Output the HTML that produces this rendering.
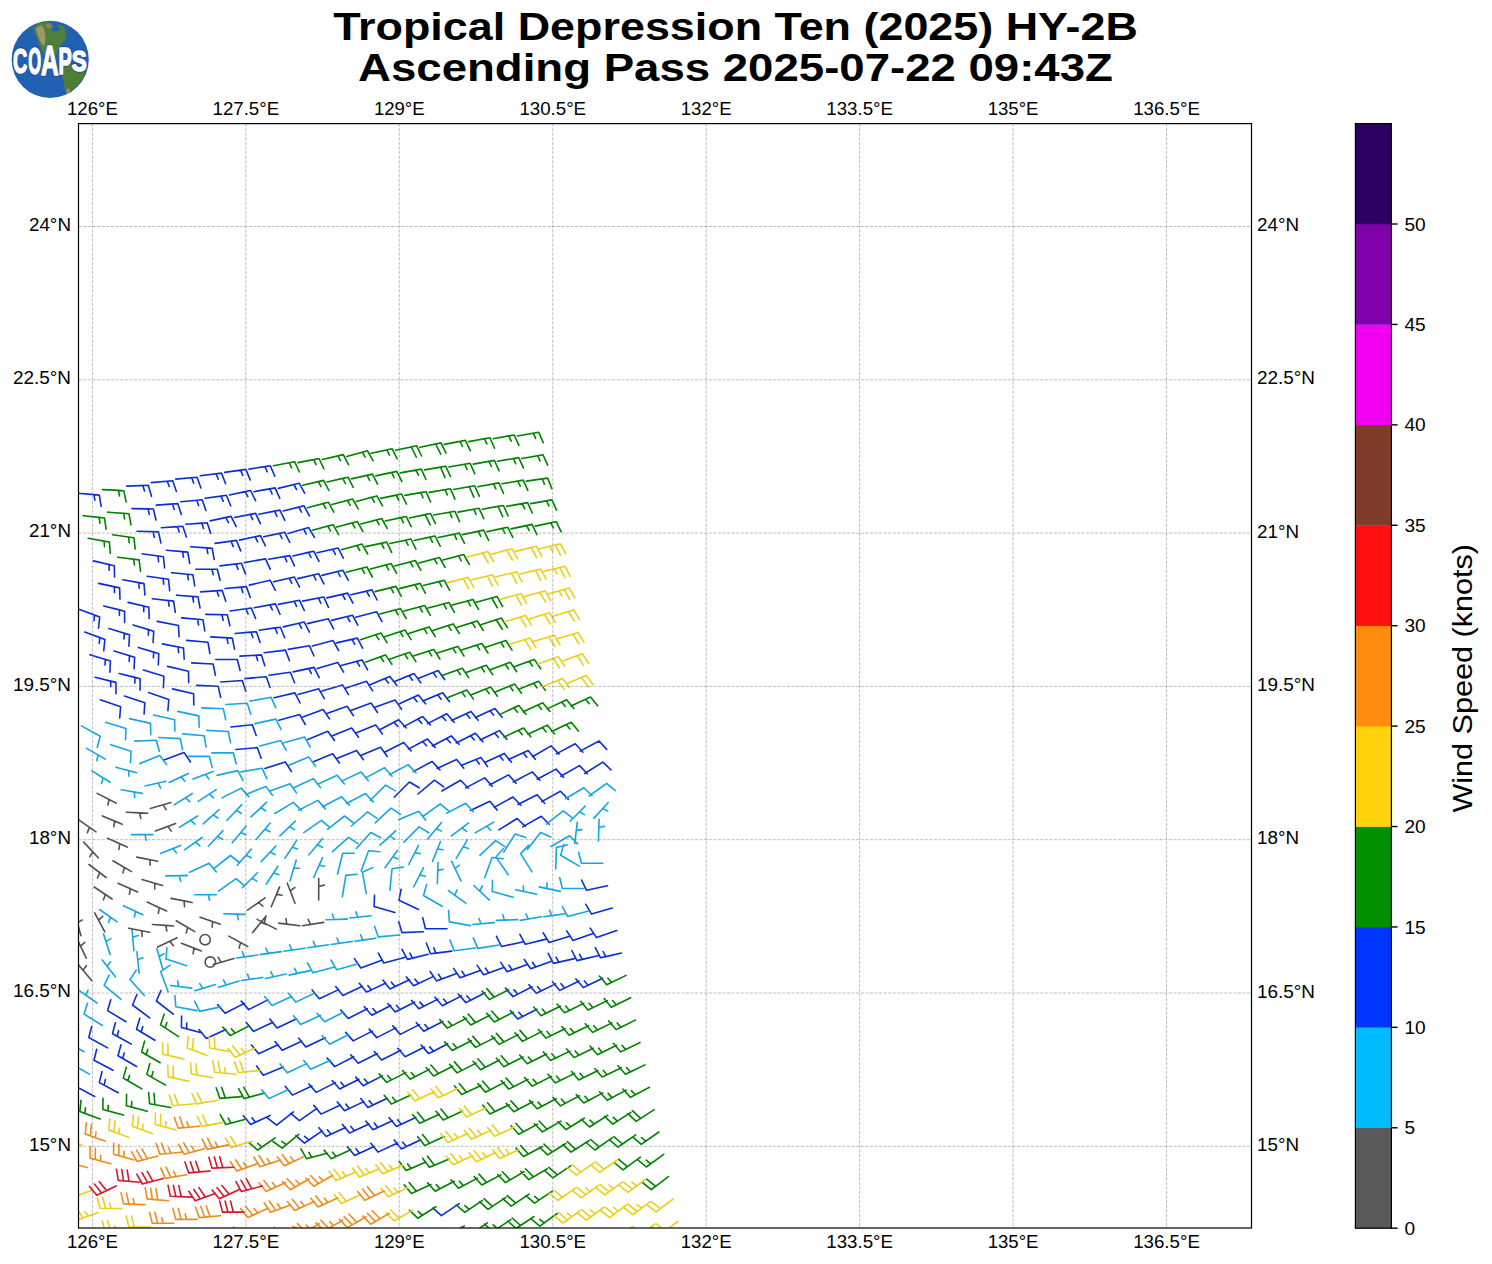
<!DOCTYPE html>
<html><head><meta charset="utf-8"><title>Tropical Depression Ten (2025) HY-2B</title>
<style>html,body{margin:0;padding:0;background:#fff;width:1492px;height:1264px;overflow:hidden;font-family:"Liberation Sans",sans-serif}</style>
</head><body>
<svg width="1492" height="1264" viewBox="0 0 1492 1264" style="position:absolute;left:0;top:0">
<rect width="100%" height="100%" fill="#fff"/>
<defs><clipPath id="fr"><rect x="78.5" y="123.6" width="1173.0" height="1104.4"/></clipPath></defs>
<g clip-path="url(#fr)" fill="none" stroke-width="1.6" stroke-linejoin="round" stroke-linecap="round">
<path stroke="#0a2ed4" d="M77.9 493.2L99.3 495.1L101.1 506.3L99.3 495.1L93.9 494.6L94.9 500.2L93.9 494.6ZM126.8 486.1L148.3 485.3L151.5 496.2L148.3 485.3L142.9 485.5L144.5 490.9L142.9 485.5ZM151.3 482.6L172.7 480.7L176.4 491.4L172.7 480.7L167.3 481.2L169.2 486.5L167.3 481.2ZM175.7 479.1L197.1 477.3L200.9 488.0L197.1 477.3L191.8 477.7L193.6 483.1L191.8 477.7ZM200.2 475.7L221.5 473.1L225.6 483.7L221.5 473.1L216.2 473.8L218.2 479.1L216.2 473.8ZM224.6 472.4L245.9 469.4L250.2 479.9L245.9 469.4L240.6 470.2L242.7 475.4L240.6 470.2ZM249.0 469.1L270.3 465.7L274.8 476.2L270.3 465.7L264.9 466.6L267.2 471.8L264.9 466.6ZM131.9 508.6L153.4 509.0L156.0 520.0L153.4 509.0L148.0 508.9L149.3 514.4L148.0 508.9ZM156.3 505.1L177.8 503.6L181.3 514.4L177.8 503.6L172.4 504.0L174.2 509.4L172.4 504.0ZM180.7 501.7L202.2 499.8L205.9 510.5L202.2 499.8L196.8 500.3L198.6 505.6L196.8 500.3ZM205.1 498.3L226.4 495.3L230.7 505.8L226.4 495.3L221.1 496.1L223.2 501.3L221.1 496.1ZM229.5 495.0L250.6 490.5L255.6 500.7L250.6 490.5L245.3 491.6L247.8 496.7L245.3 491.6ZM253.9 491.7L275.1 487.9L279.8 498.3L275.1 487.9L269.8 488.9L272.1 494.0L269.8 488.9ZM278.3 488.4L299.2 483.2L304.6 493.2L299.2 483.2L293.9 484.5L296.6 489.5L293.9 484.5ZM137.0 531.2L158.5 531.9L160.9 543.0L158.5 531.9L153.1 531.7L154.3 537.3L153.1 531.7ZM161.4 527.7L182.8 526.2L186.4 537.0L182.8 526.2L177.4 526.6L179.2 532.0L177.4 526.6ZM185.7 524.3L207.2 522.8L210.7 533.5L207.2 522.8L201.8 523.1L203.6 528.5L201.8 523.1ZM210.1 520.9L231.1 516.4L236.2 526.6L231.1 516.4L225.9 517.5L228.4 522.6L225.9 517.5ZM234.5 517.5L255.6 513.4L260.4 523.7L255.6 513.4L250.3 514.4L252.7 519.6L250.3 514.4ZM258.8 514.2L279.9 510.1L284.8 520.4L279.9 510.1L274.6 511.1L277.0 516.3L274.6 511.1ZM283.2 511.0L304.0 505.8L309.4 515.8L304.0 505.8L298.8 507.1L301.5 512.1L298.8 507.1ZM93.4 560.9L114.3 565.7L114.6 577.0L114.3 565.7L109.1 564.5L109.2 570.2L109.1 564.5ZM142.1 553.7L163.4 556.7L164.6 568.0L163.4 556.7L158.0 556.0L158.6 561.6L158.0 556.0ZM166.4 550.2L187.8 552.1L189.7 563.3L187.8 552.1L182.5 551.6L183.4 557.2L182.5 551.6ZM190.7 546.8L212.2 548.3L214.2 559.5L212.2 548.3L206.8 547.9L207.8 553.5L206.8 547.9ZM215.1 543.4L236.4 540.4L240.7 550.9L236.4 540.4L231.0 541.2L233.2 546.4L231.0 541.2ZM239.4 540.1L260.4 535.6L265.4 545.8L260.4 535.6L255.1 536.7L257.7 541.8L255.1 536.7ZM263.7 536.8L284.7 532.3L289.8 542.5L284.7 532.3L279.5 533.4L282.0 538.5L279.5 533.4ZM288.0 533.5L308.7 527.6L314.4 537.4L308.7 527.6L303.5 529.1L306.3 534.0L303.5 529.1ZM98.6 583.4L119.6 587.9L120.0 599.2L119.6 587.9L114.3 586.8L114.5 592.4L114.3 586.8ZM122.9 579.8L144.0 583.6L144.9 594.9L144.0 583.6L138.7 582.6L139.2 588.3L138.7 582.6ZM147.2 576.3L168.5 579.3L169.7 590.6L168.5 579.3L163.1 578.5L163.7 584.2L163.1 578.5ZM171.5 572.8L192.9 574.7L194.7 585.9L192.9 574.7L187.5 574.2L188.4 579.8L187.5 574.2ZM195.8 569.3L217.3 569.3L220.1 580.3L217.3 569.3L211.9 569.3L213.3 574.8L211.9 569.3ZM220.0 565.9L241.4 563.3L245.5 573.9L241.4 563.3L236.0 564.0L238.1 569.3L236.0 564.0ZM244.3 562.6L265.5 558.9L270.2 569.2L265.5 558.9ZM268.6 559.3L289.8 555.6L294.4 565.9L289.8 555.6L284.4 556.5L286.8 561.7L284.4 556.5ZM292.9 556.0L313.8 551.2L319.0 561.3L313.8 551.2L308.5 552.4L311.1 557.5L308.5 552.4ZM317.1 552.8L338.1 548.0L343.3 558.1L338.1 548.0L332.8 549.2L335.4 554.3L332.8 549.2ZM79.5 609.6L99.7 616.9L98.5 628.2L99.7 616.9L94.6 615.1L94.0 620.7L94.6 615.1ZM103.7 606.0L124.6 611.2L124.6 622.5L124.6 611.2L119.4 609.8L119.4 615.5L119.4 609.8ZM128.0 602.4L148.9 607.2L149.2 618.5L148.9 607.2L143.7 606.0L143.8 611.7L143.7 606.0ZM152.3 598.8L173.6 601.1L175.3 612.3L173.6 601.1L168.3 600.5L169.1 606.1L168.3 600.5ZM176.5 595.3L198.0 596.8L200.0 608.0L198.0 596.8L192.6 596.5L193.6 602.0L192.6 596.5ZM200.8 591.9L222.2 590.4L225.8 601.2L222.2 590.4L216.8 590.8L218.6 596.1L216.8 590.8ZM225.0 588.5L246.4 586.6L250.2 597.3L246.4 586.6L241.1 587.1L242.9 592.4L241.1 587.1ZM249.3 585.1L270.2 580.3L275.4 590.4L270.2 580.3ZM273.5 581.8L294.4 577.0L299.6 587.1L294.4 577.0L289.2 578.2L291.8 583.3L289.2 578.2ZM297.7 578.6L318.7 573.7L323.9 583.8L318.7 573.7L313.4 575.0L316.0 580.0L313.4 575.0ZM321.9 575.4L342.8 570.2L348.2 580.2L342.8 570.2L337.6 571.5L340.2 576.5L337.6 571.5ZM84.7 632.1L104.9 639.5L103.7 650.8L104.9 639.5L99.8 637.6L99.2 643.3L99.8 637.6ZM108.9 628.5L129.5 634.8L128.9 646.1L129.5 634.8L124.3 633.2L124.0 638.9L124.3 633.2ZM133.1 624.9L153.7 631.2L153.1 642.5L153.7 631.2L148.5 629.6L148.3 635.3L148.5 629.6ZM157.3 621.4L178.5 625.5L179.1 636.8L178.5 625.5ZM181.6 617.9L203.0 619.7L204.8 630.9L203.0 619.7L197.6 619.3L198.5 624.9L197.6 619.3ZM205.8 614.4L227.3 614.8L229.9 625.8L227.3 614.8L221.9 614.7L223.2 620.2L221.9 614.7ZM230.0 611.0L251.3 608.0L255.6 618.5L251.3 608.0L245.9 608.8L248.1 614.0L245.9 608.8ZM254.2 607.7L275.4 603.9L280.0 614.3L275.4 603.9L270.0 604.9L272.4 610.0L270.0 604.9ZM278.4 604.4L299.5 600.3L304.3 610.5L299.5 600.3L294.2 601.3L296.6 606.4L294.2 601.3ZM302.6 601.1L323.7 597.0L328.5 607.3L323.7 597.0L318.4 598.0L320.8 603.2L318.4 598.0ZM326.8 597.9L347.7 593.1L352.9 603.1L347.7 593.1L342.4 594.3L345.0 599.3L342.4 594.3ZM350.9 594.7L371.9 589.9L377.1 600.0L371.9 589.9L366.6 591.1L369.2 596.2L366.6 591.1ZM89.9 654.7L110.4 660.9L109.9 672.3L110.4 660.9L105.3 659.4L105.0 665.0L105.3 659.4ZM114.1 651.0L134.6 657.3L134.1 668.6L134.6 657.3L129.5 655.7L129.2 661.4L129.5 655.7ZM138.3 647.4L158.8 653.7L158.3 665.0L158.8 653.7L153.7 652.1L153.4 657.8L153.7 652.1ZM162.4 643.9L183.5 648.0L184.2 659.3L183.5 648.0L178.2 647.0L178.6 652.6L178.2 647.0ZM186.6 640.4L208.0 642.3L209.9 653.5L208.0 642.3ZM210.8 636.9L232.3 638.1L234.5 649.2L232.3 638.1L226.9 637.8L228.0 643.3L226.9 637.8ZM235.0 633.5L256.4 631.7L260.1 642.4L256.4 631.7L251.0 632.1L252.9 637.5L251.0 632.1ZM259.1 630.2L280.4 627.2L284.7 637.7L280.4 627.2L275.1 627.9L277.2 633.2L275.1 627.9ZM283.3 626.9L304.2 622.0L309.4 632.1L304.2 622.0L299.0 623.3L301.6 628.3L299.0 623.3ZM307.4 623.6L328.4 618.8L333.6 628.9L328.4 618.8ZM331.6 620.4L352.4 615.2L357.8 625.2L352.4 615.2L347.2 616.5L349.9 621.5L347.2 616.5ZM355.7 617.3L376.5 611.7L382.0 621.6L376.5 611.7ZM95.1 677.2L115.9 682.4L116.0 693.7L115.9 682.4L110.7 681.1L110.7 686.7L110.7 681.1ZM119.2 673.5L140.1 678.7L140.1 690.1L140.1 678.7L134.9 677.4L134.9 683.1L134.9 677.4ZM143.4 669.9L163.9 676.2L163.4 687.6L163.9 676.2ZM167.5 666.4L188.5 671.2L188.7 682.6L188.5 671.2ZM191.7 662.9L213.1 664.0L215.4 675.2L213.1 664.0ZM215.8 659.5L237.3 659.5L240.1 670.5L237.3 659.5ZM239.9 656.1L261.4 654.9L264.8 665.8L261.4 654.9L256.0 655.2L257.7 660.6L256.0 655.2ZM264.1 652.7L285.4 650.1L289.5 660.7L285.4 650.1ZM288.2 649.4L309.4 645.7L314.0 656.0L309.4 645.7ZM312.3 646.1L333.1 640.6L338.6 650.5L333.1 640.6ZM336.4 642.9L357.4 638.1L362.6 648.2L357.4 638.1L352.1 639.3L354.7 644.3L352.1 639.3ZM100.3 699.7L120.6 706.7L119.7 718.0L120.6 706.7ZM124.4 696.0L144.8 702.7L144.1 714.0L144.8 702.7ZM148.5 692.5L168.8 699.5L167.9 710.8L168.8 699.5ZM172.6 688.9L193.6 693.7L193.8 705.1L193.6 693.7ZM196.7 685.4L218.2 686.2L220.6 697.3L218.2 686.2ZM220.8 682.0L242.3 680.5L245.8 691.2L242.3 680.5ZM244.9 678.6L266.3 676.7L270.1 687.4L266.3 676.7ZM269.0 675.2L290.3 672.2L294.6 682.7L290.3 672.2ZM293.1 671.9L314.1 667.4L319.2 677.6L314.1 667.4L308.8 668.6L311.4 673.6L308.8 668.6ZM317.2 668.6L337.7 662.4L343.6 672.1L337.7 662.4ZM341.2 665.4L362.0 659.9L367.6 669.8L362.0 659.9L356.8 661.3L359.6 666.2L356.8 661.3ZM274.0 697.7L294.9 692.9L300.1 703.0L294.9 692.9ZM298.0 694.4L318.8 688.8L324.3 698.7L318.8 688.8ZM322.0 691.1L342.6 684.9L348.5 694.6L342.6 684.9ZM346.1 687.9L366.5 681.3L372.6 690.9L366.5 681.3ZM370.1 684.8L389.9 676.4L396.8 685.4L389.9 676.4L384.9 678.5L388.4 683.0L384.9 678.5ZM394.1 681.7L414.1 673.6L420.8 682.7L414.1 673.6L409.0 675.6L412.4 680.2L409.0 675.6ZM418.1 678.6L438.1 670.5L444.8 679.7L438.1 670.5L433.1 672.6L436.4 677.1L433.1 672.6ZM230.9 727.0L252.3 724.7L256.2 735.4L252.3 724.7ZM278.9 720.2L299.7 714.6L305.2 724.5L299.7 714.6ZM302.9 716.9L323.1 709.5L329.5 718.9L323.1 709.5ZM326.9 713.6L347.1 706.3L353.5 715.7L347.1 706.3ZM350.9 710.4L371.1 703.1L377.5 712.5L371.1 703.1ZM374.9 707.3L395.1 699.9L401.5 709.3L395.1 699.9ZM398.9 704.1L418.4 695.1L425.6 703.8L418.4 695.1L413.5 697.3L417.1 701.7L413.5 697.3ZM422.9 701.1L442.7 692.7L449.5 701.7L442.7 692.7L437.7 694.8L441.1 699.3L437.7 694.8ZM163.9 760.0L184.1 752.6L190.5 762.0L184.1 752.6ZM235.9 749.5L257.3 747.6L261.1 758.3L257.3 747.6ZM307.8 739.4L327.8 731.3L334.5 740.5L327.8 731.3ZM331.8 736.1L351.7 728.1L358.5 737.2L351.7 728.1ZM355.8 732.9L375.7 724.9L382.4 734.0L375.7 724.9ZM379.7 729.7L398.7 719.7L406.3 728.0L398.7 719.7L393.9 722.2L397.8 726.4L393.9 722.2ZM403.7 726.6L422.6 716.5L430.3 724.9L422.6 716.5L417.9 719.1L421.7 723.3L417.9 719.1ZM427.6 723.6L446.8 713.8L454.2 722.3L446.8 713.8L441.9 716.2L445.7 720.5L441.9 716.2ZM451.5 720.5L471.0 711.4L478.2 720.2L471.0 711.4L466.1 713.7L469.7 718.1L466.1 713.7ZM475.4 717.6L494.9 708.5L502.1 717.3L494.9 708.5L490.0 710.8L493.6 715.1L490.0 710.8ZM264.9 768.5L285.3 761.9L291.4 771.5L285.3 761.9ZM312.8 761.9L332.7 753.8L339.4 763.0L332.7 753.8ZM336.7 758.6L356.6 750.6L363.4 759.7L356.6 750.6ZM360.6 755.4L380.6 747.3L387.3 756.5L380.6 747.3ZM384.5 752.2L403.7 742.5L411.2 751.0L403.7 742.5ZM408.4 749.1L427.4 739.0L435.1 747.4L427.4 739.0L422.7 741.5L426.5 745.7L422.7 741.5ZM432.3 746.0L451.3 735.9L459.0 744.3L451.3 735.9L446.6 738.5L450.4 742.7L446.6 738.5ZM456.2 743.0L475.4 733.3L482.9 741.8L475.4 733.3L470.6 735.7L474.3 740.0L470.6 735.7ZM480.1 740.0L499.4 730.6L506.8 739.3L499.4 730.6L494.6 733.0L498.3 737.3L494.6 733.0ZM413.2 771.6L432.2 761.5L439.9 769.9L432.2 761.5ZM437.1 768.5L456.6 759.4L463.8 768.2L456.6 759.4ZM461.0 765.5L480.9 757.4L487.6 766.6L480.9 757.4L475.9 759.4L479.2 764.0L475.9 759.4ZM484.8 762.5L504.3 753.4L511.5 762.2L504.3 753.4L499.4 755.7L503.0 760.1L499.4 755.7ZM508.6 759.6L528.1 750.5L535.3 759.3L528.1 750.5L523.2 752.8L526.8 757.2L523.2 752.8ZM532.5 756.7L551.1 745.9L559.0 754.1L551.1 745.9ZM556.3 753.9L575.3 743.8L582.9 752.2L575.3 743.8ZM580.1 751.1L599.1 741.0L606.7 749.4L599.1 741.0ZM394.2 797.2L409.4 782.0L419.2 787.8L409.4 782.0ZM418.0 794.0L434.5 780.2L443.7 786.8L434.5 780.2ZM441.9 791.0L460.5 780.2L468.4 788.3L460.5 780.2ZM465.7 787.9L484.7 777.9L492.3 786.2L484.7 777.9ZM489.5 785.0L508.5 774.9L516.1 783.3L508.5 774.9ZM513.3 782.0L532.3 771.9L539.9 780.3L532.3 771.9ZM537.1 779.2L556.1 769.1L563.7 777.5L556.1 769.1ZM560.9 776.3L579.5 765.6L587.4 773.7L579.5 765.6ZM584.7 773.5L602.9 762.1L611.1 770.0L602.9 762.1ZM470.4 810.4L489.9 801.3L497.1 810.1L489.9 801.3ZM494.2 807.4L513.0 797.0L520.8 805.3L513.0 797.0ZM518.0 804.5L537.1 794.7L544.6 803.3L537.1 794.7ZM541.7 801.6L560.5 791.2L568.3 799.4L560.5 791.2ZM498.9 829.9L517.1 818.5L525.3 826.3L517.1 818.5ZM522.6 826.9L541.3 816.2L549.2 824.3L541.3 816.2ZM394.8 912.6L374.1 906.6L374.5 895.3L374.1 906.6ZM418.5 909.4L399.0 900.3L401.1 889.2L399.0 900.3ZM607.5 885.7L586.5 890.2L581.5 880.0L586.5 890.2ZM423.3 931.8L401.9 932.6L398.7 921.7L401.9 932.6ZM447.0 928.7L425.5 928.7L422.7 917.7L425.5 928.7ZM612.2 908.1L591.5 914.1L585.8 904.3L591.5 914.1ZM381.0 960.6L360.8 968.0L354.4 958.6L360.8 968.0ZM404.6 957.4L383.8 963.0L378.3 953.1L383.8 963.0ZM428.2 954.2L407.4 959.4L402.0 949.4L407.4 959.4L412.6 958.1L409.9 953.1L412.6 958.1ZM451.8 951.1L430.5 953.7L426.4 943.2L430.5 953.7L435.8 953.1L433.8 947.8L435.8 953.1ZM522.6 942.0L501.5 946.5L496.5 936.3L501.5 946.5ZM546.1 939.1L525.3 944.3L519.9 934.3L525.3 944.3ZM569.7 936.2L549.1 942.5L543.2 932.8L549.1 942.5ZM593.2 933.4L572.9 940.4L566.7 930.9L572.9 940.4ZM616.8 930.6L596.5 937.6L590.2 928.1L596.5 937.6ZM126.0 1021.7L107.6 1010.6L110.8 999.7L107.6 1010.6ZM149.7 1017.9L132.5 1005.0L136.9 994.5L132.5 1005.0ZM173.3 1014.2L156.4 1001.0L160.9 990.6L156.4 1001.0ZM244.3 1003.4L225.1 1013.2L217.6 1004.6L225.1 1013.2ZM267.9 999.9L248.7 1009.6L241.2 1001.1L248.7 1009.6ZM338.7 989.6L319.3 998.7L312.1 989.9L319.3 998.7ZM362.4 986.3L342.9 995.4L335.7 986.6L342.9 995.4ZM385.9 983.0L366.5 992.1L359.3 983.3L366.5 992.1L371.4 989.9L367.8 985.5L371.4 989.9ZM409.5 979.8L390.0 988.9L382.9 980.1L390.0 988.9L394.9 986.6L391.4 982.2L394.9 986.6ZM433.1 976.6L413.6 985.7L406.4 976.9L413.6 985.7L418.5 983.5L414.9 979.1L418.5 983.5ZM456.7 973.5L436.5 980.9L430.1 971.5L436.5 980.9L441.6 979.0L438.4 974.3L441.6 979.0ZM480.2 970.4L460.0 977.8L453.6 968.4L460.0 977.8L465.1 975.9L461.9 971.3L465.1 975.9ZM503.8 967.4L483.6 974.8L477.2 965.4L483.6 974.8L488.7 972.9L485.5 968.2L488.7 972.9ZM527.3 964.4L507.1 971.8L500.7 962.4L507.1 971.8L512.2 969.9L509.0 965.2L512.2 969.9ZM550.9 961.5L530.7 968.8L524.3 959.5L530.7 968.8L535.7 967.0L532.5 962.3L535.7 967.0ZM574.4 958.6L553.4 963.4L548.2 953.3L553.4 963.4L558.7 962.2L556.1 957.2L558.7 962.2ZM597.9 955.8L577.0 960.6L571.8 950.5L577.0 960.6L582.2 959.4L579.6 954.3L582.2 959.4ZM621.4 953.0L600.5 957.8L595.3 947.7L600.5 957.8L605.7 956.6L603.1 951.5L605.7 956.6ZM107.6 1047.9L88.8 1037.5L91.7 1026.5L88.8 1037.5ZM131.3 1044.1L112.5 1033.7L115.4 1022.7L112.5 1033.7L117.2 1036.3L118.6 1030.8L117.2 1036.3ZM154.9 1040.3L136.5 1029.3L139.8 1018.4L136.5 1029.3L141.1 1032.0L142.8 1026.6L141.1 1032.0ZM202.2 1033.0L181.4 1027.4L181.6 1016.1L181.4 1027.4L186.6 1028.8L186.7 1023.1L186.6 1028.8ZM225.8 1029.4L206.3 1038.5L199.1 1029.7L206.3 1038.5ZM273.0 1022.3L253.5 1031.4L246.3 1022.6L253.5 1031.4ZM296.6 1018.8L277.1 1027.9L269.9 1019.1L277.1 1027.9ZM367.3 1008.7L348.2 1018.5L340.7 1010.0L348.2 1018.5ZM390.9 1005.5L371.8 1015.2L364.3 1006.7L371.8 1015.2L376.6 1012.8L372.8 1008.5L376.6 1012.8ZM414.5 1002.2L395.3 1012.0L387.8 1003.5L395.3 1012.0L400.1 1009.5L396.4 1005.3L400.1 1009.5ZM438.0 999.1L418.9 1008.8L411.4 1000.3L418.9 1008.8L423.7 1006.4L419.9 1002.1L423.7 1006.4ZM461.6 995.9L442.4 1005.7L434.9 997.2L442.4 1005.7L447.2 1003.2L443.5 999.0L447.2 1003.2ZM485.1 992.8L465.9 1002.6L458.4 994.1L465.9 1002.6L470.7 1000.2L467.0 995.9L470.7 1000.2ZM532.1 986.8L513.0 996.6L505.5 988.1L513.0 996.6L517.8 994.1L514.0 989.9L517.8 994.1ZM555.6 983.9L536.3 993.3L529.0 984.7L536.3 993.3L541.1 990.9L537.5 986.6L541.1 990.9ZM579.1 981.0L559.8 990.4L552.4 981.8L559.8 990.4L564.6 988.1L561.0 983.7L564.6 988.1ZM602.6 978.2L583.3 987.6L575.9 978.9L583.3 987.6L588.1 985.2L584.4 980.9L588.1 985.2ZM113.0 1070.3L94.0 1060.2L96.7 1049.2L94.0 1060.2ZM136.6 1066.5L118.0 1055.7L121.0 1044.8L118.0 1055.7L122.6 1058.4L124.2 1053.0L122.6 1058.4ZM278.1 1044.7L258.6 1053.8L251.5 1045.0L258.6 1053.8ZM301.7 1041.2L282.2 1050.3L275.0 1041.5L282.2 1050.3ZM325.3 1037.8L305.8 1046.9L298.6 1038.1L305.8 1046.9ZM372.3 1031.1L353.2 1040.9L345.7 1032.4L353.2 1040.9ZM395.9 1027.9L376.7 1037.6L369.2 1029.1L376.7 1037.6ZM419.4 1024.6L400.2 1034.4L392.8 1025.9L400.2 1034.4ZM442.9 1021.5L423.8 1031.2L416.3 1022.7L423.8 1031.2L428.6 1028.8L424.8 1024.5L428.6 1028.8ZM536.9 1009.2L517.7 1019.0L510.3 1010.5L517.7 1019.0L522.6 1016.5L518.8 1012.3L522.6 1016.5ZM94.7 1096.5L75.7 1086.4L78.4 1075.4L75.7 1086.4ZM118.3 1092.7L99.3 1082.6L102.0 1071.6L99.3 1082.6L104.1 1085.1L105.4 1079.6L104.1 1085.1ZM283.3 1067.1L263.3 1075.2L256.6 1066.0L263.3 1075.2ZM353.8 1056.8L334.7 1066.6L327.2 1058.1L334.7 1066.6ZM377.4 1053.5L358.2 1063.3L350.7 1054.8L358.2 1063.3ZM400.9 1050.3L381.7 1060.0L374.2 1051.5L381.7 1060.0ZM424.4 1047.0L405.2 1056.8L397.7 1048.3L405.2 1056.8ZM447.8 1043.8L428.7 1053.6L421.2 1045.1L428.7 1053.6L433.5 1051.2L429.7 1046.9L433.5 1051.2ZM311.9 1086.0L292.4 1095.1L285.2 1086.3L292.4 1095.1ZM335.4 1082.6L316.2 1092.4L308.8 1083.8L316.2 1092.4ZM358.9 1079.2L339.7 1089.0L332.2 1080.5L339.7 1089.0L344.5 1086.5L340.8 1082.3L344.5 1086.5ZM382.4 1075.9L363.2 1085.7L355.7 1077.1L363.2 1085.7L368.0 1083.2L364.3 1079.0L368.0 1083.2ZM270.1 1115.4L250.6 1124.5L243.4 1115.7L250.6 1124.5L255.5 1122.2L251.9 1117.8L255.5 1122.2ZM293.5 1111.9L276.6 1125.1L267.6 1118.2L276.6 1125.1ZM317.0 1108.4L299.4 1120.7L290.8 1113.3L299.4 1120.7ZM340.5 1105.0L321.0 1114.1L313.8 1105.3L321.0 1114.1ZM363.9 1101.6L344.5 1110.7L337.3 1101.9L344.5 1110.7L349.4 1108.4L345.8 1104.0L349.4 1108.4ZM387.4 1098.3L367.9 1107.4L360.7 1098.6L367.9 1107.4L372.8 1105.1L369.2 1100.7L372.8 1105.1ZM322.1 1130.8L304.5 1143.1L295.9 1135.7L304.5 1143.1L308.9 1140.0L304.6 1136.3L308.9 1140.0ZM345.6 1127.4L326.1 1136.5L318.9 1127.7L326.1 1136.5L331.0 1134.2L327.4 1129.8L331.0 1134.2ZM369.0 1124.0L349.5 1133.1L342.3 1124.3L349.5 1133.1L354.4 1130.8L350.8 1126.4L354.4 1130.8ZM392.4 1120.7L372.9 1129.8L365.8 1121.0L372.9 1129.8L377.8 1127.5L374.2 1123.1L377.8 1127.5ZM415.8 1117.4L396.4 1126.5L389.2 1117.7L396.4 1126.5L401.2 1124.2L397.7 1119.8L401.2 1124.2ZM374.1 1146.4L354.6 1155.5L347.4 1146.7L354.6 1155.5L359.5 1153.2L355.9 1148.8L359.5 1153.2ZM397.5 1143.0L378.0 1152.1L370.8 1143.3L378.0 1152.1ZM420.9 1139.8L401.4 1148.9L394.2 1140.1L401.4 1148.9L406.3 1146.6L402.7 1142.2L406.3 1146.6ZM459.2 1203.6L441.4 1215.6L432.9 1208.1L441.4 1215.6Z"/>
<path stroke="#008200" d="M102.4 489.6L123.8 490.7L126.1 501.9L123.8 490.7L118.4 490.4L119.6 496.0L118.4 490.4ZM273.5 465.8L294.6 461.7L299.4 472.0L294.6 461.7L289.3 462.8L291.7 467.9L289.3 462.8ZM297.9 462.6L319.0 458.5L323.9 468.8L319.0 458.5L313.7 459.6L316.1 464.7L313.7 459.6ZM322.3 459.5L343.3 454.6L348.5 464.7L343.3 454.6L338.0 455.9L340.6 460.9L338.0 455.9ZM346.7 456.4L367.5 450.8L373.0 460.7L367.5 450.8L362.3 452.2L365.1 457.2L362.3 452.2ZM371.1 453.3L392.2 448.8L397.2 459.0L392.2 448.8L386.9 450.0L389.4 455.1L386.9 450.0ZM395.5 450.3L416.6 445.8L421.6 456.0L416.6 445.8L411.3 447.0L416.3 457.1L411.3 447.0ZM419.9 447.3L441.0 442.9L446.0 453.1L441.0 442.9L435.7 444.0L440.7 454.2L435.7 444.0ZM444.3 444.4L465.4 440.3L470.3 450.6L465.4 440.3L460.1 441.4L462.5 446.5L460.1 441.4ZM468.7 441.6L489.9 437.8L494.5 448.2L489.9 437.8L484.5 438.8L486.9 443.9L484.5 438.8ZM493.1 438.7L514.2 435.0L518.9 445.4L514.2 435.0L508.9 435.9L511.2 441.1L508.9 435.9ZM517.4 436.0L538.6 432.2L543.3 442.6L538.6 432.2L533.3 433.2L535.6 438.3L533.3 433.2ZM83.1 515.8L104.5 518.0L106.1 529.2L104.5 518.0L99.1 517.4L99.9 523.1L99.1 517.4ZM107.5 512.2L128.9 513.7L131.0 524.8L128.9 513.7L123.6 513.3L124.6 518.9L123.6 513.3ZM302.7 485.2L323.6 480.4L328.9 490.5L323.6 480.4L318.4 481.6L321.0 486.6L318.4 481.6ZM327.1 482.0L348.0 477.2L353.2 487.3L348.0 477.2L342.8 478.4L345.4 483.5L342.8 478.4ZM351.4 478.9L372.4 474.1L377.6 484.2L372.4 474.1L367.1 475.3L369.7 480.4L367.1 475.3ZM375.8 475.9L396.8 471.4L401.9 481.6L396.8 471.4L391.6 472.5L394.1 477.6L391.6 472.5ZM400.2 472.9L421.3 469.1L426.0 479.5L421.3 469.1L416.0 470.1L418.4 475.2L416.0 470.1ZM424.5 469.9L445.7 466.2L450.4 476.5L445.7 466.2L440.4 467.1L445.0 477.4L440.4 467.1ZM448.9 467.0L470.0 463.2L474.7 473.6L470.0 463.2L464.7 464.2L467.0 469.4L464.7 464.2ZM473.2 464.1L494.4 460.4L499.0 470.7L494.4 460.4L489.0 461.3L491.4 466.5L489.0 461.3ZM497.5 461.3L518.7 457.6L523.4 467.9L518.7 457.6L513.4 458.5L515.7 463.7L513.4 458.5ZM521.8 458.5L543.0 454.8L547.7 465.1L543.0 454.8L537.7 455.7L540.0 460.9L537.7 455.7ZM88.2 538.3L109.4 542.0L110.3 553.4L109.4 542.0L104.1 541.1L104.5 546.8L104.1 541.1ZM112.6 534.7L133.9 537.7L135.2 549.0L133.9 537.7L128.6 537.0L129.2 542.6L128.6 537.0ZM307.5 507.8L328.3 502.2L333.8 512.1L328.3 502.2L323.1 503.6L325.8 508.5L323.1 503.6ZM331.8 504.6L352.6 499.0L358.2 508.9L352.6 499.0L347.4 500.4L350.2 505.4L347.4 500.4ZM356.2 501.5L376.9 495.9L382.5 505.8L376.9 495.9L371.7 497.3L374.5 502.3L371.7 497.3ZM380.5 498.4L401.5 494.0L406.5 504.1L401.5 494.0L396.2 495.1L398.7 500.2L396.2 495.1ZM404.8 495.4L426.0 491.7L430.6 502.0L426.0 491.7L420.7 492.6L423.0 497.8L420.7 492.6ZM429.1 492.4L450.3 488.7L455.0 499.1L450.3 488.7L445.0 489.7L447.3 494.8L445.0 489.7ZM453.4 489.5L474.6 485.8L479.3 496.1L474.6 485.8L469.3 486.7L473.9 497.1L469.3 486.7ZM477.7 486.7L498.9 482.9L503.5 493.3L498.9 482.9L493.6 483.9L495.9 489.0L493.6 483.9ZM502.0 483.8L523.2 480.1L527.8 490.4L523.2 480.1L517.8 481.0L520.2 486.2L517.8 481.0ZM526.3 481.1L547.6 478.1L551.9 488.6L547.6 478.1L542.2 478.8L544.4 484.1L542.2 478.8ZM117.7 557.3L139.1 559.9L140.5 571.2L139.1 559.9L133.7 559.2L134.4 564.9L133.7 559.2ZM312.3 530.3L333.1 524.7L338.6 534.6L333.1 524.7L327.9 526.1L330.6 531.1L327.9 526.1ZM336.6 527.1L357.4 521.6L362.9 531.5L357.4 521.6L352.2 523.0L354.9 527.9L352.2 523.0ZM360.9 524.0L381.7 518.5L387.2 528.4L381.7 518.5L376.4 519.9L379.2 524.8L376.4 519.9ZM385.2 521.0L406.2 516.5L411.2 526.7L406.2 516.5L400.9 517.6L403.4 522.7L400.9 517.6ZM409.4 518.0L430.5 513.5L435.5 523.7L430.5 513.5L425.2 514.6L430.2 524.8L425.2 514.6ZM433.7 515.0L454.9 511.3L459.6 521.6L454.9 511.3L449.6 512.2L451.9 517.4L449.6 512.2ZM458.0 512.1L479.1 508.3L483.8 518.7L479.1 508.3L473.8 509.3L476.2 514.4L473.8 509.3ZM482.2 509.2L503.4 505.5L508.1 515.8L503.4 505.5L498.1 506.4L502.7 516.7L498.1 506.4ZM506.5 506.4L527.6 502.6L532.3 513.0L527.6 502.6L522.3 503.6L524.7 508.8L522.3 503.6ZM530.7 503.6L551.9 499.9L556.5 510.2L551.9 499.9L546.6 500.8L548.9 506.0L546.6 500.8ZM341.4 549.7L362.1 544.1L367.7 554.0L362.1 544.1L356.9 545.5L359.7 550.5L356.9 545.5ZM365.6 546.6L386.7 542.1L391.7 552.3L386.7 542.1L381.4 543.2L383.9 548.3L381.4 543.2ZM389.9 543.5L410.9 539.0L415.9 549.2L410.9 539.0L405.6 540.2L408.1 545.2L405.6 540.2ZM414.1 540.5L435.1 536.0L440.2 546.2L435.1 536.0L429.8 537.1L432.4 542.2L429.8 537.1ZM438.3 537.5L459.4 533.1L464.4 543.2L459.4 533.1L454.1 534.2L456.6 539.3L454.1 534.2ZM462.5 534.6L483.6 530.1L488.6 540.3L483.6 530.1L478.3 531.3L480.8 536.3L478.3 531.3ZM486.8 531.7L507.8 527.3L512.8 537.4L507.8 527.3L502.5 528.4L505.0 533.5L502.5 528.4ZM511.0 528.9L532.0 524.4L537.0 534.6L532.0 524.4L526.7 525.6L529.2 530.6L526.7 525.6ZM535.2 526.1L556.2 521.7L561.2 531.8L556.2 521.7L550.9 522.8L553.4 527.9L550.9 522.8ZM346.2 572.2L367.0 567.0L372.4 577.0L367.0 567.0L361.8 568.3L364.5 573.3L361.8 568.3ZM370.4 569.1L391.1 563.5L396.7 573.4L391.1 563.5L385.9 564.9L388.7 569.9L385.9 564.9ZM394.6 566.0L415.3 560.5L420.9 570.4L415.3 560.5L410.1 561.9L412.9 566.8L410.1 561.9ZM418.8 563.0L439.5 557.5L445.1 567.4L439.5 557.5L434.3 558.9L437.1 563.8L434.3 558.9ZM442.9 560.0L463.7 554.5L469.3 564.4L463.7 554.5L458.5 555.9L461.3 560.8L458.5 555.9ZM375.1 591.6L396.0 586.4L401.3 596.4L396.0 586.4L390.7 587.7L393.4 592.7L390.7 587.7ZM399.3 588.6L420.1 583.4L425.5 593.4L420.1 583.4L414.9 584.7L417.6 589.7L414.9 584.7ZM423.4 585.5L444.3 580.3L449.7 590.3L444.3 580.3L439.0 581.6L441.7 586.6L439.0 581.6ZM379.8 614.1L400.6 608.6L406.2 618.5L400.6 608.6L395.4 610.0L398.2 614.9L395.4 610.0ZM404.0 611.1L424.7 605.5L430.3 615.4L424.7 605.5L419.5 606.9L422.3 611.9L419.5 606.9ZM428.1 608.1L448.9 602.5L454.4 612.4L448.9 602.5L443.6 603.9L446.4 608.8L443.6 603.9ZM452.2 605.1L473.0 599.5L478.5 609.4L473.0 599.5L467.7 600.9L470.5 605.9L467.7 600.9ZM476.3 602.2L497.1 596.6L502.6 606.5L497.1 596.6L491.8 598.0L497.4 607.9L491.8 598.0ZM360.5 639.8L381.0 633.1L387.0 642.7L381.0 633.1L375.8 634.8L378.8 639.6L375.8 634.8ZM384.6 636.7L405.0 630.0L411.1 639.6L405.0 630.0L399.9 631.7L402.9 636.5L399.9 631.7ZM408.7 633.6L429.1 626.9L435.2 636.5L429.1 626.9L424.0 628.6L427.0 633.4L424.0 628.6ZM432.8 630.6L453.2 623.9L459.3 633.5L453.2 623.9L448.1 625.6L451.1 630.4L448.1 625.6ZM456.8 627.6L477.3 621.0L483.3 630.5L477.3 621.0L472.1 622.6L475.2 627.4L472.1 622.6ZM480.9 624.7L501.3 618.0L507.4 627.6L501.3 618.0L496.2 619.7L502.3 629.3L496.2 619.7ZM365.3 662.3L385.5 654.9L391.9 664.3L385.5 654.9L380.4 656.8L383.6 661.5L380.4 656.8ZM389.4 659.2L409.7 652.2L415.9 661.6L409.7 652.2L404.6 653.9L407.7 658.7L404.6 653.9ZM413.4 656.1L433.8 649.4L439.9 659.0L433.8 649.4L428.7 651.1L431.7 655.9L428.7 651.1ZM437.4 653.1L457.9 646.4L464.0 656.0L457.9 646.4L452.8 648.1L455.8 652.9L452.8 648.1ZM461.5 650.1L481.9 643.5L488.0 653.0L481.9 643.5L476.8 645.1L479.8 649.9L476.8 645.1ZM485.5 647.2L505.9 640.5L512.0 650.1L505.9 640.5L500.8 642.2L503.8 647.0L500.8 642.2ZM442.1 675.6L462.3 668.2L468.7 677.6L462.3 668.2L457.3 670.1L460.5 674.7L457.3 670.1ZM466.1 672.6L486.3 665.2L492.7 674.6L486.3 665.2L481.3 667.1L484.4 671.8L481.3 667.1ZM490.1 669.7L510.3 662.3L516.7 671.7L510.3 662.3L505.2 664.2L508.4 668.8L505.2 664.2ZM514.1 666.8L534.3 659.4L540.7 668.8L534.3 659.4L529.2 661.3L532.4 666.0L529.2 661.3ZM446.8 698.1L466.8 690.0L473.5 699.1L466.8 690.0L461.8 692.0L465.1 696.6L461.8 692.0ZM470.8 695.1L490.7 687.0L497.4 696.2L490.7 687.0L485.7 689.0L489.1 693.6L485.7 689.0ZM494.7 692.2L514.7 684.1L521.4 693.2L514.7 684.1L509.7 686.1L513.0 690.7L509.7 686.1ZM518.7 689.3L538.6 681.2L545.3 690.4L538.6 681.2L533.6 683.2L537.0 687.8L533.6 683.2ZM499.4 714.6L518.8 705.5L526.0 714.3L518.8 705.5L513.9 707.8L517.5 712.2L513.9 707.8ZM523.3 711.8L542.7 702.7L549.9 711.5L542.7 702.7L537.9 705.0L541.4 709.3L537.9 705.0ZM547.2 708.9L566.6 699.8L573.8 708.6L566.6 699.8L561.7 702.1L565.3 706.5L561.7 702.1ZM571.0 706.1L590.5 697.1L597.7 705.8L590.5 697.1L585.6 699.3L589.2 703.7L585.6 699.3ZM504.0 737.1L523.5 728.0L530.7 736.8L523.5 728.0L518.6 730.3L522.2 734.7L518.6 730.3ZM527.9 734.2L547.3 725.1L554.5 733.9L547.3 725.1L542.5 727.4L546.0 731.8L542.5 727.4ZM551.7 731.4L571.2 722.3L578.4 731.1L571.2 722.3L566.3 724.6L569.9 729.0L566.3 724.6ZM178.6 1036.6L160.5 1024.9L164.2 1014.2L160.5 1024.9L165.1 1027.9L166.9 1022.5L165.1 1027.9ZM249.4 1025.8L230.3 1035.6L222.8 1027.0L230.3 1035.6L235.1 1033.1L231.3 1028.8L235.1 1033.1ZM508.6 989.8L489.4 999.6L482.0 991.0L489.4 999.6L494.3 997.1L486.8 988.6L494.3 997.1ZM626.1 975.4L606.7 984.8L599.4 976.1L606.7 984.8L611.6 982.4L607.9 978.1L611.6 982.4ZM160.2 1062.7L141.6 1052.0L144.6 1041.1L141.6 1052.0L146.2 1054.7L147.8 1049.2L146.2 1054.7ZM466.4 1018.3L447.3 1028.1L439.8 1019.6L447.3 1028.1L452.1 1025.6L448.3 1021.4L452.1 1025.6ZM489.9 1015.2L470.8 1025.0L463.3 1016.5L470.8 1025.0L475.6 1022.6L468.1 1014.0L475.6 1022.6ZM513.4 1012.2L494.3 1022.0L486.8 1013.4L494.3 1022.0L499.1 1019.5L491.6 1011.0L499.1 1019.5ZM560.4 1006.3L541.0 1015.7L533.7 1007.1L541.0 1015.7L545.9 1013.3L542.2 1009.0L545.9 1013.3ZM583.8 1003.4L564.5 1012.8L557.2 1004.2L564.5 1012.8L569.4 1010.5L565.7 1006.1L569.4 1010.5ZM607.3 1000.6L588.0 1010.0L580.6 1001.3L588.0 1010.0L592.8 1007.6L589.1 1003.3L592.8 1007.6ZM630.7 997.8L611.4 1007.2L604.1 998.5L611.4 1007.2L616.2 1004.8L612.6 1000.5L616.2 1004.8ZM141.9 1088.9L123.3 1078.1L126.3 1067.2L123.3 1078.1L127.9 1080.8L129.5 1075.4L127.9 1080.8ZM165.5 1085.1L146.8 1074.4L149.9 1063.5L146.8 1074.4L151.5 1077.1L153.1 1071.6L151.5 1077.1ZM471.3 1040.7L452.2 1050.5L444.7 1041.9L452.2 1050.5L457.0 1048.0L453.2 1043.8L457.0 1048.0ZM494.8 1037.6L475.6 1047.4L468.1 1038.9L475.6 1047.4L480.4 1044.9L472.9 1036.4L480.4 1044.9ZM518.2 1034.6L499.1 1044.4L491.6 1035.8L499.1 1044.4L503.9 1041.9L496.4 1033.4L503.9 1041.9ZM541.7 1031.6L522.5 1041.4L515.0 1032.8L522.5 1041.4L527.3 1038.9L519.9 1030.4L527.3 1038.9ZM565.1 1028.7L545.8 1038.1L538.5 1029.4L545.8 1038.1L550.7 1035.7L547.0 1031.4L550.7 1035.7ZM588.6 1025.8L569.2 1035.2L561.9 1026.5L569.2 1035.2L574.1 1032.8L570.4 1028.5L574.1 1032.8ZM612.0 1022.9L592.7 1032.4L585.3 1023.7L592.7 1032.4L597.5 1030.0L593.8 1025.7L597.5 1030.0ZM635.4 1020.1L616.1 1029.6L608.7 1020.9L616.1 1029.6L620.9 1027.2L617.2 1022.9L620.9 1027.2ZM100.1 1118.9L79.9 1111.6L81.0 1100.3L79.9 1111.6L84.9 1113.4L85.5 1107.8L84.9 1113.4ZM123.6 1115.1L102.9 1109.5L103.0 1098.2L102.9 1109.5L108.1 1110.9L108.2 1105.2L108.1 1110.9ZM147.2 1111.3L126.4 1105.7L126.6 1094.4L126.4 1105.7L131.6 1107.1L131.7 1101.4L131.6 1107.1ZM170.7 1107.5L149.6 1103.8L148.7 1092.5L149.6 1103.8L154.9 1104.7L154.0 1093.4L154.9 1104.7ZM241.4 1096.6L219.9 1098.4L216.2 1087.7L219.9 1098.4L225.3 1098.0L221.6 1087.3L225.3 1098.0ZM264.9 1093.0L244.1 1098.6L238.6 1088.7L244.1 1098.6L249.3 1097.2L243.8 1087.3L249.3 1097.2ZM405.8 1072.6L386.7 1082.4L379.2 1073.9L386.7 1082.4L391.5 1079.9L387.8 1075.7L391.5 1079.9ZM429.3 1069.4L410.2 1079.2L402.7 1070.6L410.2 1079.2L415.0 1076.7L411.2 1072.5L415.0 1076.7ZM452.8 1066.2L433.6 1076.0L426.1 1067.5L433.6 1076.0L438.4 1073.5L430.9 1065.0L438.4 1073.5ZM476.2 1063.1L457.1 1072.9L449.6 1064.3L457.1 1072.9L461.9 1070.4L454.4 1061.9L461.9 1070.4ZM499.6 1060.0L480.5 1069.8L473.0 1061.3L480.5 1069.8L485.3 1067.3L477.8 1058.8L485.3 1067.3ZM523.1 1057.0L503.9 1066.7L496.4 1058.2L503.9 1066.7L508.7 1064.3L501.2 1055.8L508.7 1064.3ZM546.5 1054.0L527.3 1063.8L519.8 1055.2L527.3 1063.8L532.1 1061.3L528.4 1057.0L532.1 1061.3ZM569.9 1051.1L550.6 1060.5L543.2 1051.8L550.6 1060.5L555.4 1058.1L551.8 1053.8L555.4 1058.1ZM593.3 1048.2L574.0 1057.6L566.6 1048.9L574.0 1057.6L578.8 1055.2L575.2 1050.9L578.8 1055.2ZM616.7 1045.3L597.4 1054.7L590.0 1046.1L597.4 1054.7L602.2 1052.4L598.6 1048.0L602.2 1052.4ZM640.1 1042.5L620.7 1051.9L613.4 1043.3L620.7 1051.9L625.6 1049.6L621.9 1045.3L625.6 1049.6ZM246.6 1119.0L225.8 1124.5L220.2 1114.6L225.8 1124.5L231.0 1123.1L228.2 1118.2L231.0 1123.1ZM410.8 1095.0L391.4 1104.1L384.2 1095.3L391.4 1104.1L396.2 1101.8L392.7 1097.4L396.2 1101.8ZM481.1 1085.5L461.6 1094.6L454.4 1085.8L461.6 1094.6L466.5 1092.3L459.3 1083.5L466.5 1092.3ZM504.5 1082.4L485.4 1092.2L477.9 1083.6L485.4 1092.2L490.2 1089.7L482.7 1081.2L490.2 1089.7ZM527.9 1079.4L508.8 1089.1L501.3 1080.6L508.8 1089.1L513.6 1086.7L506.1 1078.1L513.6 1086.7ZM551.3 1076.4L532.2 1086.1L524.7 1077.6L532.2 1086.1L537.0 1083.7L533.2 1079.4L537.0 1083.7ZM574.7 1073.4L555.4 1082.9L548.0 1074.2L555.4 1082.9L560.2 1080.5L556.5 1076.2L560.2 1080.5ZM598.1 1070.5L578.7 1080.0L571.4 1071.3L578.7 1080.0L583.6 1077.6L579.9 1073.3L583.6 1077.6ZM621.4 1067.7L602.1 1077.1L594.8 1068.5L602.1 1077.1L606.9 1074.8L603.3 1070.4L606.9 1074.8ZM644.8 1064.9L625.4 1074.3L618.1 1065.7L625.4 1074.3L630.3 1072.0L626.6 1067.6L630.3 1072.0ZM275.2 1137.8L257.6 1150.1L249.0 1142.7L257.6 1150.1L262.0 1147.0L257.7 1143.3L262.0 1147.0ZM298.7 1134.3L282.2 1148.1L273.0 1141.5L282.2 1148.1L286.4 1144.6L281.7 1141.3L286.4 1144.6ZM439.2 1114.2L419.8 1123.3L412.6 1114.5L419.8 1123.3L424.7 1121.0L417.5 1112.2L424.7 1121.0ZM462.6 1111.0L443.2 1120.1L436.0 1111.3L443.2 1120.1L448.1 1117.8L440.9 1109.0L448.1 1117.8ZM509.4 1104.8L489.9 1113.9L482.7 1105.1L489.9 1113.9L494.8 1111.6L487.6 1102.8L494.8 1111.6ZM532.8 1101.7L513.8 1111.8L506.2 1103.4L513.8 1111.8L518.6 1109.3L510.9 1100.9L518.6 1109.3ZM556.1 1098.7L537.2 1108.8L529.5 1100.4L537.2 1108.8L541.9 1106.3L538.1 1102.1L541.9 1106.3ZM579.5 1095.8L560.5 1105.9L552.9 1097.5L560.5 1105.9L565.3 1103.4L561.4 1099.2L565.3 1103.4ZM602.8 1092.9L583.8 1103.0L576.2 1094.6L583.8 1103.0L588.6 1100.5L584.8 1096.3L588.6 1100.5ZM626.2 1090.1L607.2 1100.2L599.5 1091.8L607.2 1100.2L611.9 1097.6L608.1 1093.4L611.9 1097.6ZM649.5 1087.3L630.5 1097.4L622.9 1089.0L630.5 1097.4L635.3 1094.8L631.4 1090.6L635.3 1094.8ZM327.3 1153.2L306.5 1158.7L300.9 1148.8L306.5 1158.7L311.7 1157.3L308.9 1152.4L311.7 1157.3ZM350.7 1149.7L331.2 1158.8L324.0 1150.0L331.2 1158.8L336.1 1156.5L332.5 1152.2L336.1 1156.5ZM444.2 1136.5L424.7 1145.6L417.6 1136.8L424.7 1145.6L429.6 1143.3L422.5 1134.6L429.6 1143.3ZM537.6 1124.1L518.7 1134.2L511.0 1125.8L518.7 1134.2L523.4 1131.7L515.8 1123.3L523.4 1131.7ZM561.0 1121.1L542.4 1131.9L534.4 1123.7L542.4 1131.9L547.0 1129.2L539.1 1121.0L547.0 1129.2ZM584.3 1118.2L566.1 1129.6L557.9 1121.7L566.1 1129.6L570.6 1126.7L566.5 1122.8L570.6 1126.7ZM607.6 1115.3L589.6 1127.0L581.2 1119.3L589.6 1127.0L594.1 1124.0L589.9 1120.2L594.1 1124.0ZM630.9 1112.4L612.9 1124.1L604.5 1116.4L612.9 1124.1L617.4 1121.2L613.2 1117.3L617.4 1121.2ZM654.2 1109.6L636.2 1121.3L627.8 1113.6L636.2 1121.3L640.7 1118.4L632.3 1110.7L640.7 1118.4ZM425.9 1162.1L406.1 1170.5L399.2 1161.5L406.1 1170.5L411.1 1168.4L407.6 1163.9L411.1 1168.4ZM449.2 1158.9L429.4 1167.3L422.6 1158.3L429.4 1167.3L434.4 1165.2L427.5 1156.2L434.4 1165.2ZM542.5 1146.5L523.5 1156.5L515.9 1148.1L523.5 1156.5L528.3 1154.0L520.7 1145.6L528.3 1154.0ZM565.8 1143.5L547.6 1154.9L539.4 1147.0L547.6 1154.9L552.2 1152.0L544.0 1144.1L552.2 1152.0ZM589.1 1140.5L571.1 1152.2L562.7 1144.5L571.1 1152.2L575.6 1149.3L567.3 1141.6L575.6 1149.3ZM612.4 1137.6L594.8 1150.0L586.2 1142.5L594.8 1150.0L599.2 1146.9L590.6 1139.5L599.2 1146.9ZM635.7 1134.8L618.0 1147.1L609.4 1139.7L618.0 1147.1L622.5 1144.0L613.9 1136.6L622.5 1144.0ZM658.9 1132.0L641.3 1144.3L632.7 1136.9L641.3 1144.3L645.7 1141.2L641.4 1137.5L645.7 1141.2ZM430.9 1184.5L411.4 1193.6L404.2 1184.8L411.4 1193.6L416.3 1191.3L409.1 1182.5L416.3 1191.3ZM454.2 1181.3L435.2 1191.3L427.6 1182.9L435.2 1191.3L440.0 1188.8L436.2 1184.6L440.0 1188.8ZM477.5 1178.1L458.5 1188.2L450.9 1179.8L458.5 1188.2L463.3 1185.6L459.5 1181.4L463.3 1185.6ZM500.8 1174.9L481.8 1185.0L474.2 1176.6L481.8 1185.0L486.6 1182.5L479.0 1174.1L486.6 1182.5ZM524.1 1171.8L505.5 1182.6L497.6 1174.5L505.5 1182.6L510.2 1179.9L502.3 1171.8L510.2 1179.9ZM547.4 1168.8L528.8 1179.6L520.9 1171.4L528.8 1179.6L533.5 1176.9L525.5 1168.7L533.5 1176.9ZM570.7 1165.8L552.9 1177.8L544.4 1170.3L552.9 1177.8L557.3 1174.8L548.9 1167.3L557.3 1174.8ZM640.4 1157.1L623.0 1169.8L614.3 1162.5L623.0 1169.8L627.4 1166.6L618.7 1159.3L627.4 1166.6ZM663.7 1154.3L646.3 1167.0L637.5 1159.7L646.3 1167.0L650.6 1163.8L646.3 1160.2L650.6 1163.8ZM435.9 1206.8L417.7 1218.2L409.5 1210.4L417.7 1218.2L422.3 1215.4L418.2 1211.4L422.3 1215.4ZM482.5 1200.4L464.7 1212.4L456.2 1204.9L464.7 1212.4L469.2 1209.4L464.9 1205.6L469.2 1209.4ZM505.8 1197.3L488.0 1209.3L479.5 1201.7L488.0 1209.3L492.4 1206.3L484.0 1198.7L492.4 1206.3ZM529.1 1194.2L511.2 1206.2L502.8 1198.7L511.2 1206.2L515.7 1203.2L507.2 1195.6L515.7 1203.2ZM552.3 1191.1L534.5 1203.2L526.0 1195.6L534.5 1203.2L539.0 1200.2L534.7 1196.4L539.0 1200.2ZM668.4 1176.7L651.3 1189.6L642.4 1182.5L651.3 1189.6L655.6 1186.3L646.7 1179.2L655.6 1186.3ZM464.3 1225.9L446.4 1238.0L438.0 1230.4L446.4 1238.0L450.9 1234.9L446.7 1231.2L450.9 1234.9ZM487.5 1222.8L469.7 1234.8L461.2 1227.2L469.7 1234.8L474.2 1231.8L469.9 1228.0L474.2 1231.8ZM510.8 1219.6L492.9 1231.6L484.5 1224.1L492.9 1231.6L497.4 1228.6L493.2 1224.8L497.4 1228.6ZM534.0 1216.5L516.2 1228.5L507.7 1221.0L516.2 1228.5L520.6 1225.5L512.2 1218.0L520.6 1225.5ZM557.2 1213.5L539.8 1226.1L531.1 1218.9L539.8 1226.1L544.2 1222.9L539.8 1219.3L544.2 1222.9Z"/>
<path stroke="#ead01a" d="M467.1 557.1L487.9 551.6L493.4 561.5L487.9 551.6L482.7 553.0L488.2 562.9L482.7 553.0ZM491.3 554.3L512.1 548.7L517.6 558.6L512.1 548.7L506.8 550.1L512.4 560.0L506.8 550.1ZM515.5 551.4L536.3 546.2L541.7 556.2L536.3 546.2L531.1 547.5L536.5 557.5L531.1 547.5ZM539.6 548.7L560.6 543.8L565.8 553.9L560.6 543.8L555.3 545.0L560.5 555.1L555.3 545.0L550.0 546.2L552.6 551.3L550.0 546.2ZM447.6 582.6L468.4 577.4L473.8 587.4L468.4 577.4L463.2 578.7L468.6 588.7L463.2 578.7ZM471.7 579.7L492.7 574.8L497.9 584.9L492.7 574.8L487.4 576.0L492.6 586.1L487.4 576.0ZM495.8 576.8L516.8 571.9L522.0 582.0L516.8 571.9L511.5 573.2L516.7 583.2L511.5 573.2ZM520.0 574.0L540.9 569.1L546.1 579.2L540.9 569.1L535.6 570.3L540.8 580.4L535.6 570.3ZM544.1 571.2L565.0 566.3L570.2 576.4L565.0 566.3L559.8 567.6L565.0 577.6L559.8 567.6L554.5 568.8L557.1 573.8L554.5 568.8ZM500.4 599.3L521.2 593.7L526.7 603.6L521.2 593.7L515.9 595.1L521.5 605.0L515.9 595.1ZM524.5 596.5L545.2 590.9L550.8 600.8L545.2 590.9L540.0 592.3L545.6 602.2L540.0 592.3ZM548.5 593.7L569.3 588.1L574.9 598.0L569.3 588.1L564.1 589.5L569.6 599.4L564.1 589.5L558.9 590.9L561.7 595.9L558.9 590.9ZM504.9 621.8L525.5 615.5L531.4 625.2L525.5 615.5L520.3 617.1L526.2 626.8L520.3 617.1ZM529.0 619.0L549.5 612.7L555.4 622.4L549.5 612.7L544.4 614.3L550.3 624.0L544.4 614.3ZM553.0 616.2L573.6 609.9L579.5 619.6L573.6 609.9L568.4 611.5L574.3 621.2L568.4 611.5ZM509.5 644.3L530.1 638.0L536.0 647.7L530.1 638.0L524.9 639.6L530.8 649.3L524.9 639.6ZM533.5 641.5L554.1 635.2L560.0 644.9L554.1 635.2L548.9 636.8L554.8 646.5L548.9 636.8ZM557.5 638.7L578.1 632.4L584.0 642.1L578.1 632.4L572.9 634.0L578.8 643.7L572.9 634.0ZM538.1 664.0L558.3 656.6L564.6 666.0L558.3 656.6L553.2 658.5L559.6 667.8L553.2 658.5ZM562.0 661.2L582.2 653.8L588.6 663.2L582.2 653.8L577.1 655.7L583.5 665.1L577.1 655.7ZM542.6 686.4L562.5 678.4L569.3 687.5L562.5 678.4L557.5 680.4L564.2 689.6L557.5 680.4ZM566.5 683.7L586.5 675.6L593.2 684.8L586.5 675.6L581.4 677.6L588.2 686.8L581.4 677.6ZM183.8 1059.0L162.8 1054.2L162.6 1042.9L162.8 1054.2L168.1 1055.4L167.9 1044.1L168.1 1055.4ZM207.4 1055.4L187.2 1048.0L188.3 1036.7L187.2 1048.0L192.3 1049.9L193.4 1038.6L192.3 1049.9ZM231.0 1051.8L209.8 1048.0L209.0 1036.7L209.8 1048.0L215.1 1049.0L214.3 1037.7L215.1 1049.0ZM254.6 1048.2L235.1 1057.3L227.9 1048.5L235.1 1057.3L240.0 1055.0L232.8 1046.2L240.0 1055.0L244.9 1052.7L241.3 1048.3L244.9 1052.7ZM189.0 1081.4L168.1 1076.6L167.8 1065.3L168.1 1076.6L173.4 1077.8L173.1 1066.5L173.4 1077.8ZM212.6 1077.8L191.4 1074.0L190.6 1062.7L191.4 1074.0L196.8 1075.0L195.9 1063.7L196.8 1075.0ZM236.2 1074.2L214.7 1072.3L212.9 1061.1L214.7 1072.3L220.1 1072.8L218.3 1061.6L220.1 1072.8L225.5 1073.2L224.6 1067.6L225.5 1073.2ZM259.7 1070.6L238.3 1072.5L234.6 1061.8L238.3 1072.5L243.7 1072.0L239.9 1061.3L243.7 1072.0ZM194.3 1103.8L172.9 1105.7L169.1 1095.0L172.9 1105.7L178.3 1105.2L174.5 1094.5L178.3 1105.2ZM217.8 1100.2L196.7 1103.9L192.0 1093.6L196.7 1103.9L202.0 1103.0L197.3 1092.6L202.0 1103.0ZM81.9 1145.2L61.1 1139.7L61.3 1128.3L61.1 1139.7L66.3 1141.1L66.5 1129.7L66.3 1141.1L71.6 1142.5L71.6 1136.8L71.6 1142.5ZM129.0 1137.5L108.8 1130.1L109.9 1118.8L108.8 1130.1L113.9 1132.0L115.0 1120.7L113.9 1132.0L118.9 1133.8L119.5 1128.2L118.9 1133.8ZM152.5 1133.7L132.3 1126.3L133.4 1115.0L132.3 1126.3L137.4 1128.2L138.5 1116.9L137.4 1128.2L142.5 1130.0L143.0 1124.4L142.5 1130.0ZM176.0 1129.9L155.3 1124.4L155.4 1113.0L155.3 1124.4L160.5 1125.8L160.6 1114.4L160.5 1125.8L165.7 1127.2L165.8 1121.5L165.7 1127.2ZM223.1 1122.6L201.9 1126.3L197.2 1116.0L201.9 1126.3L207.2 1125.4L202.5 1115.0L207.2 1125.4ZM434.3 1091.8L414.8 1100.9L407.6 1092.1L414.8 1100.9L419.7 1098.6L412.5 1089.8L419.7 1098.6ZM457.7 1088.6L438.2 1097.7L431.0 1088.9L438.2 1097.7L443.1 1095.4L435.9 1086.6L443.1 1095.4ZM251.8 1141.3L231.2 1147.6L225.3 1137.9L231.2 1147.6L236.4 1146.0L230.5 1136.3L236.4 1146.0ZM486.0 1107.9L466.5 1116.9L459.4 1108.2L466.5 1116.9L471.4 1114.7L464.3 1105.9L471.4 1114.7ZM92.7 1190.0L72.5 1197.4L66.1 1188.0L72.5 1197.4L77.6 1195.5L71.2 1186.1L77.6 1195.5ZM467.6 1133.4L448.1 1142.4L440.9 1133.7L448.1 1142.4L453.0 1140.2L445.8 1131.4L453.0 1140.2L457.9 1137.9L454.3 1133.5L457.9 1137.9ZM491.0 1130.2L471.5 1139.3L464.3 1130.5L471.5 1139.3L476.4 1137.0L469.2 1128.2L476.4 1137.0L481.3 1134.7L477.7 1130.3L481.3 1134.7ZM514.3 1127.1L494.8 1136.2L487.6 1127.4L494.8 1136.2L499.7 1133.9L492.5 1125.2L499.7 1133.9ZM98.1 1212.4L77.9 1219.7L71.5 1210.3L77.9 1219.7L83.0 1217.9L76.6 1208.5L83.0 1217.9L88.1 1216.0L84.9 1211.3L88.1 1216.0ZM121.6 1208.5L100.1 1208.5L97.3 1197.5L100.1 1208.5L105.5 1208.5L102.7 1197.5L105.5 1208.5L110.9 1208.5L109.5 1203.0L110.9 1208.5ZM355.8 1172.1L336.0 1180.5L329.1 1171.5L336.0 1180.5L341.0 1178.4L334.1 1169.4L341.0 1178.4L345.9 1176.3L342.5 1171.8L345.9 1176.3ZM379.1 1168.7L359.4 1177.1L352.5 1168.1L359.4 1177.1L364.3 1175.0L357.5 1166.0L364.3 1175.0L369.3 1172.9L365.9 1168.4L369.3 1172.9ZM402.5 1165.4L382.7 1173.8L375.8 1164.8L382.7 1173.8L387.7 1171.7L380.8 1162.7L387.7 1171.7L392.7 1169.6L389.2 1165.1L392.7 1169.6ZM472.6 1155.7L453.1 1164.8L445.9 1156.0L453.1 1164.8L458.0 1162.5L450.8 1153.7L458.0 1162.5L462.9 1160.2L459.3 1155.8L462.9 1160.2ZM495.9 1152.6L476.4 1161.7L469.2 1152.9L476.4 1161.7L481.3 1159.4L474.1 1150.6L481.3 1159.4L486.2 1157.1L482.6 1152.7L486.2 1157.1ZM519.2 1149.5L499.7 1158.6L492.5 1149.8L499.7 1158.6L504.6 1156.3L497.4 1147.5L504.6 1156.3L509.5 1154.0L505.9 1149.6L509.5 1154.0ZM80.1 1238.7L59.1 1243.5L53.9 1233.4L59.1 1243.5L64.4 1242.3L59.2 1232.2L64.4 1242.3L69.7 1241.1L67.1 1236.1L69.7 1241.1ZM103.5 1234.7L82.6 1239.6L77.4 1229.5L82.6 1239.6L87.8 1238.4L82.6 1228.3L87.8 1238.4L93.1 1237.1L90.5 1232.1L93.1 1237.1ZM127.0 1230.8L105.5 1232.0L102.1 1221.1L105.5 1232.0L110.9 1231.7L107.5 1220.8L110.9 1231.7L116.3 1231.4L114.6 1226.0L116.3 1231.4ZM150.4 1227.0L128.9 1227.0L126.1 1216.0L128.9 1227.0L134.3 1227.0L131.5 1216.0L134.3 1227.0ZM360.9 1194.5L341.4 1203.5L334.2 1194.8L341.4 1203.5L346.3 1201.3L339.1 1192.5L346.3 1201.3ZM407.6 1187.8L388.1 1196.8L380.9 1188.1L388.1 1196.8L393.0 1194.6L385.8 1185.8L393.0 1194.6L397.9 1192.3L394.3 1187.9L397.9 1192.3ZM593.9 1162.9L576.3 1175.2L567.7 1167.8L576.3 1175.2L580.8 1172.1L572.1 1164.7L580.8 1172.1ZM617.2 1160.0L599.6 1172.3L591.0 1164.9L599.6 1172.3L604.0 1169.2L595.4 1161.8L604.0 1169.2ZM155.8 1249.3L134.3 1249.7L131.3 1238.8L134.3 1249.7L139.7 1249.6L136.7 1238.7L139.7 1249.6L145.1 1249.5L143.6 1244.1L145.1 1249.5ZM412.6 1210.1L394.0 1220.9L386.1 1212.7L394.0 1220.9L398.7 1218.2L390.8 1210.0L398.7 1218.2ZM575.5 1188.2L557.9 1200.5L549.3 1193.1L557.9 1200.5L562.4 1197.4L553.8 1190.0L562.4 1197.4ZM598.8 1185.2L581.4 1197.8L572.7 1190.6L581.4 1197.8L585.8 1194.7L577.0 1187.4L585.8 1194.7L590.1 1191.5L585.8 1187.9L590.1 1191.5ZM622.0 1182.3L604.6 1194.9L595.9 1187.7L604.6 1194.9L609.0 1191.8L600.3 1184.5L609.0 1191.8L613.4 1188.6L609.0 1185.0L613.4 1188.6ZM645.2 1179.5L628.0 1192.4L619.2 1185.3L628.0 1192.4L632.4 1189.2L623.5 1182.1L632.4 1189.2L636.7 1185.9L632.2 1182.4L636.7 1185.9ZM441.0 1229.2L422.8 1240.6L414.6 1232.7L422.8 1240.6L427.3 1237.7L419.1 1229.9L427.3 1237.7ZM580.4 1210.5L563.0 1223.1L554.3 1215.9L563.0 1223.1L567.4 1220.0L558.7 1212.7L567.4 1220.0L571.8 1216.8L567.4 1213.2L571.8 1216.8ZM603.6 1207.5L586.2 1220.2L577.5 1212.9L586.2 1220.2L590.6 1217.0L581.9 1209.8L590.6 1217.0L595.0 1213.8L590.6 1210.2L595.0 1213.8ZM626.8 1204.6L609.7 1217.6L600.8 1210.5L609.7 1217.6L614.0 1214.3L605.1 1207.2L614.0 1214.3L618.3 1211.1L613.9 1207.5L618.3 1211.1ZM650.0 1201.8L632.8 1214.7L624.0 1207.6L632.8 1214.7L637.2 1211.5L628.3 1204.4L637.2 1211.5L641.5 1208.2L637.0 1204.7L641.5 1208.2ZM673.2 1199.0L656.0 1211.9L647.2 1204.8L656.0 1211.9L660.3 1208.7L651.5 1201.6L660.3 1208.7ZM562.1 1235.8L545.0 1248.8L536.1 1241.7L545.0 1248.8L549.3 1245.5L540.4 1238.4L549.3 1245.5ZM585.3 1232.8L568.2 1245.8L559.3 1238.7L568.2 1245.8L572.5 1242.5L563.6 1235.4L572.5 1242.5ZM608.5 1229.9L591.3 1242.8L582.5 1235.7L591.3 1242.8L595.6 1239.6L586.8 1232.5L595.6 1239.6ZM631.7 1227.0L614.5 1239.9L605.6 1232.8L614.5 1239.9L618.8 1236.7L610.0 1229.6L618.8 1236.7ZM654.8 1224.1L637.7 1237.1L628.8 1230.0L637.7 1237.1L642.0 1233.8L633.1 1226.7L642.0 1233.8ZM678.0 1221.3L660.8 1234.3L652.0 1227.2L660.8 1234.3L665.1 1231.0L656.3 1223.9L665.1 1231.0ZM636.5 1249.3L619.4 1262.2L610.5 1255.1L619.4 1262.2L623.7 1259.0L614.8 1251.9L623.7 1259.0ZM659.7 1246.4L642.5 1259.4L633.6 1252.3L642.5 1259.4L646.8 1256.1L637.9 1249.0L646.8 1256.1ZM682.8 1243.6L665.6 1256.6L656.7 1249.5L665.6 1256.6L669.9 1253.3L661.1 1246.2L669.9 1253.3Z"/>
<path stroke="#16a6e0" d="M81.4 725.9L100.2 736.3L97.3 747.3L100.2 736.3ZM105.5 722.2L126.0 728.5L125.5 739.8L126.0 728.5ZM129.6 718.6L150.5 723.4L150.8 734.7L150.5 723.4ZM153.6 715.0L174.6 719.8L174.9 731.1L174.6 719.8ZM177.7 711.4L198.8 715.9L199.2 727.2L198.8 715.9ZM201.8 707.9L223.3 708.7L225.7 719.8L223.3 708.7ZM225.9 704.5L247.3 703.3L250.7 714.2L247.3 703.3ZM249.9 701.1L271.1 697.3L275.8 707.7L271.1 697.3ZM86.6 748.4L105.3 759.1L98.2 755.1L96.7 760.6L98.2 755.1ZM110.7 744.7L131.1 751.3L130.4 762.7L131.1 751.3ZM134.7 741.1L156.2 740.3L159.4 751.2L156.2 740.3ZM158.8 737.5L180.3 738.6L182.5 749.7L180.3 738.6ZM182.8 733.9L204.2 735.8L206.1 747.0L204.2 735.8ZM206.9 730.4L228.3 731.5L230.5 742.7L228.3 731.5ZM254.9 723.6L275.9 719.1L281.0 729.3L275.9 719.1ZM91.9 770.9L110.1 782.3L103.2 778.0L101.5 783.4L103.2 778.0ZM115.9 767.2L136.7 772.8L128.8 770.7L128.8 776.3L128.8 770.7ZM139.9 763.6L159.8 755.5L166.6 764.6L159.8 755.5ZM187.9 756.4L209.4 756.4L212.2 767.4L209.4 756.4ZM211.9 752.9L233.4 752.9L236.2 763.9L233.4 752.9ZM259.9 746.1L280.7 740.5L286.2 750.4L280.7 740.5ZM283.9 742.7L304.6 737.1L310.2 747.0L304.6 737.1ZM121.1 789.7L142.3 793.4L134.3 792.0L134.7 797.7L134.3 792.0ZM145.1 786.0L166.0 781.2L158.1 783.0L160.7 788.1L158.1 783.0ZM169.1 782.4L188.5 773.4L181.2 776.8L184.8 781.2L181.2 776.8ZM193.0 778.9L213.2 771.5L205.6 774.3L208.8 779.0L205.6 774.3ZM217.0 775.4L237.9 770.6L243.1 780.6L237.9 770.6ZM240.9 771.9L262.1 768.2L266.8 778.6L262.1 768.2ZM288.8 765.2L308.8 757.1L315.5 766.3L308.8 757.1ZM174.2 804.9L192.4 793.5L185.6 797.8L189.7 801.7L185.6 797.8ZM198.1 801.4L216.2 789.7L209.4 794.1L213.5 797.9L209.4 794.1ZM222.1 797.9L241.2 788.1L248.7 796.6L241.2 788.1ZM246.0 794.4L265.9 786.4L272.6 795.5L265.9 786.4ZM269.9 791.0L290.1 783.7L296.5 793.0L290.1 783.7ZM293.8 787.7L313.3 778.6L320.5 787.4L313.3 778.6ZM317.7 784.3L337.2 775.3L344.4 784.0L337.2 775.3ZM341.6 781.1L361.1 772.0L368.3 780.8L361.1 772.0ZM365.5 777.9L384.5 767.8L392.1 776.2L384.5 767.8ZM389.4 774.7L408.3 764.6L416.0 773.0L408.3 764.6ZM131.5 834.6L153.0 834.6L144.9 834.6L146.3 840.1L144.9 834.6ZM179.3 827.4L197.6 816.0L190.7 820.3L194.8 824.2L190.7 820.3ZM203.2 823.8L219.2 809.5L213.2 814.9L217.9 818.0L213.2 814.9ZM227.1 820.3L241.8 804.6L236.3 810.5L241.3 813.3L236.3 810.5ZM251.0 816.9L266.7 802.2L260.8 807.8L265.6 810.8L260.8 807.8ZM274.9 813.5L293.3 802.4L301.4 810.4L293.3 802.4ZM298.8 810.1L317.9 800.4L325.4 808.9L317.9 800.4ZM322.6 806.8L341.6 796.7L349.3 805.1L341.6 796.7ZM346.5 803.5L365.5 793.5L373.1 801.9L365.5 793.5ZM370.4 800.3L385.6 785.1L395.3 790.9L385.6 785.1ZM160.6 853.5L180.6 845.4L173.0 848.4L176.4 853.0L173.0 848.4ZM184.5 849.9L202.1 837.5L195.5 842.2L199.8 845.9L195.5 842.2ZM208.4 846.3L223.0 830.6L217.5 836.5L222.5 839.2L217.5 836.5ZM232.2 842.8L246.0 826.3L240.8 832.5L245.9 835.0L240.8 832.5ZM256.1 839.4L270.2 823.1L264.9 829.2L269.9 831.8L264.9 829.2ZM279.9 835.9L295.4 821.0L289.6 826.6L294.4 829.6L289.6 826.6ZM303.8 832.6L321.4 820.3L330.0 827.7L321.4 820.3ZM327.6 829.3L344.5 816.0L353.5 823.0L344.5 816.0ZM351.4 826.0L367.6 811.9L377.0 818.4L367.6 811.9ZM375.2 822.8L391.0 808.1L400.5 814.3L391.0 808.1ZM399.0 819.6L418.8 811.2L425.7 820.3L418.8 811.2ZM422.8 816.5L440.2 803.9L449.0 811.1L440.2 803.9ZM446.6 813.4L465.6 803.3L473.3 811.7L465.6 803.3ZM565.5 798.8L583.9 787.7L592.0 795.7L583.9 787.7ZM589.2 796.0L606.6 783.4L615.3 790.6L606.6 783.4ZM165.8 875.9L187.3 875.6L179.2 875.7L180.7 881.2L179.2 875.7ZM189.6 872.3L209.1 863.2L216.3 872.0L209.1 863.2ZM213.5 868.8L230.4 855.5L239.4 862.5L230.4 855.5ZM237.3 865.3L251.4 849.0L246.1 855.2L251.2 857.7L246.1 855.2ZM261.1 861.8L275.8 846.1L270.3 852.0L275.2 854.7L270.3 852.0ZM284.9 858.4L296.6 840.4L292.2 847.2L297.6 849.0L292.2 847.2ZM308.7 855.0L322.6 838.6L317.3 844.8L322.5 847.2L317.3 844.8ZM332.5 851.7L348.5 837.3L358.0 843.6L348.5 837.3ZM356.3 848.5L370.7 832.5L380.8 837.8L370.7 832.5ZM380.1 845.2L395.8 830.6L389.9 836.1L394.7 839.2L389.9 836.1ZM403.9 842.1L419.1 826.9L428.8 832.7L419.1 826.9ZM427.6 839.0L441.5 822.5L436.3 828.7L441.4 831.1L436.3 828.7ZM451.4 835.9L468.6 822.9L462.1 827.8L466.5 831.4L462.1 827.8ZM475.2 832.9L493.8 822.1L486.8 826.1L490.7 830.2L486.8 826.1ZM546.4 824.1L563.3 810.8L572.3 817.8L563.3 810.8ZM570.1 821.2L585.3 806.0L579.5 811.7L584.4 814.6L579.5 811.7ZM593.8 818.4L608.2 802.5L602.7 808.5L607.8 811.1L602.7 808.5ZM99.5 909.5L117.1 921.8L110.5 917.2L108.5 922.5L110.5 917.2ZM123.4 905.7L142.8 914.8L135.5 911.4L134.4 917.0L135.5 911.4ZM194.8 894.8L216.3 894.8L208.2 894.8L209.6 900.3L208.2 894.8ZM218.6 891.2L236.0 878.6L244.7 885.8L236.0 878.6ZM242.4 887.7L257.6 872.5L251.9 878.2L256.7 881.1L251.9 878.2ZM266.2 884.3L277.9 866.2L273.5 873.0L278.8 874.8L273.5 873.0ZM290.0 880.9L296.2 860.3L293.9 868.0L299.5 868.3L293.9 868.0ZM313.7 877.5L322.5 857.8L319.2 865.2L324.8 866.2L319.2 865.2ZM337.5 874.2L342.7 853.3L354.0 853.3L342.7 853.3ZM361.2 870.9L368.6 850.7L379.9 851.8L368.6 850.7ZM385.0 867.7L397.6 850.3L392.9 856.8L398.1 858.9L392.9 856.8ZM408.7 864.5L418.5 845.4L414.8 852.6L420.4 853.8L414.8 852.6ZM432.5 861.4L440.5 841.5L437.5 849.0L443.1 849.7L437.5 849.0ZM456.2 858.3L467.3 839.9L463.1 846.8L468.5 848.5L463.1 846.8ZM479.9 855.3L495.6 840.6L505.2 846.8L495.6 840.6ZM503.6 852.3L515.0 834.1L525.8 837.5L515.0 834.1ZM527.3 849.4L540.6 832.4L550.9 837.0L540.6 832.4ZM551.0 846.5L569.6 835.7L577.6 843.9L569.6 835.7ZM574.7 843.7L577.3 822.3L576.3 830.4L581.9 829.6L576.3 830.4ZM598.4 840.9L599.1 819.4L598.8 827.5L604.4 826.3L598.8 827.5ZM223.7 913.7L245.2 914.4L237.1 914.1L238.3 919.7L237.1 914.1ZM342.4 896.6L345.8 875.4L357.1 874.3L345.8 875.4ZM366.2 893.4L362.4 872.2L372.8 867.5L362.4 872.2ZM389.9 890.1L392.1 868.7L403.4 867.1L392.1 868.7ZM413.6 887.0L423.4 867.8L419.7 875.0L425.2 876.3L419.7 875.0ZM437.3 883.8L438.0 862.3L437.8 870.4L443.3 869.2L437.8 870.4ZM461.0 880.8L451.6 861.4L455.1 868.7L459.4 865.0L455.1 868.7ZM484.7 877.7L492.0 857.5L503.3 858.7L492.0 857.5ZM508.3 874.7L496.0 857.1L503.4 848.5L496.0 857.1ZM532.0 871.8L520.6 853.6L528.5 845.4L520.6 853.6ZM555.7 868.9L556.4 847.4L567.5 845.0L556.4 847.4ZM579.3 866.1L560.7 855.3L563.8 844.4L560.7 855.3ZM602.9 863.3L581.4 863.3L578.6 852.3L581.4 863.3ZM110.1 954.4L103.5 933.9L106.0 941.6L110.8 938.6L106.0 941.6ZM133.9 950.6L132.0 929.2L132.7 937.3L138.1 935.4L132.7 937.3ZM347.4 919.1L325.9 919.8L334.0 919.5L332.4 914.1L334.0 919.5ZM371.1 915.8L349.7 918.0L357.8 917.2L355.8 911.9L357.8 917.2ZM442.1 906.3L423.5 895.5L426.6 884.6L423.5 895.5ZM465.8 903.2L448.4 890.6L454.9 895.3L457.0 890.0L454.9 895.3ZM489.4 900.2L473.7 885.5L479.6 891.0L482.4 886.0L479.6 891.0ZM513.1 897.2L492.3 891.6L492.5 880.3L492.3 891.6ZM536.7 894.2L515.7 889.8L523.6 891.5L523.4 885.8L523.6 891.5ZM560.3 891.4L539.3 886.9L547.2 888.6L547.0 882.9L547.2 888.6ZM583.9 888.5L562.4 888.5L559.6 877.5L562.4 888.5ZM115.4 976.8L102.2 959.9L107.1 966.2L110.6 961.8L107.1 966.2ZM139.1 973.1L136.9 951.7L137.7 959.7L143.0 957.8L137.7 959.7ZM162.8 969.4L156.9 948.7L159.2 956.5L164.1 953.6L159.2 956.5ZM186.6 965.7L166.1 959.1L166.9 947.7L166.1 959.1ZM257.7 955.0L236.4 958.0L244.4 956.9L242.3 951.7L244.4 956.9ZM281.4 951.6L260.1 954.6L268.1 953.4L265.9 948.2L268.1 953.4ZM305.0 948.2L283.8 951.2L291.8 950.0L289.6 944.8L291.8 950.0ZM328.7 944.8L307.4 947.8L315.5 946.7L313.3 941.4L315.5 946.7ZM352.4 941.5L331.1 944.5L339.1 943.3L337.0 938.1L339.1 943.3ZM376.0 938.2L354.8 941.2L362.8 940.1L360.6 934.8L362.8 940.1ZM399.7 935.0L378.3 936.9L374.5 926.2L378.3 936.9ZM470.6 925.6L449.4 921.9L448.6 910.6L449.4 921.9ZM494.2 922.6L472.8 924.5L480.9 923.8L479.0 918.4L480.9 923.8ZM517.8 919.6L496.3 920.4L504.4 920.1L502.8 914.6L504.4 920.1ZM541.4 916.7L520.2 920.4L528.2 919.0L525.9 913.8L528.2 919.0ZM565.0 913.8L543.7 916.8L551.7 915.6L549.6 910.4L551.7 915.6ZM588.6 910.9L567.8 916.5L562.3 906.6L567.8 916.5ZM97.0 1003.0L79.4 990.7L86.0 995.3L88.0 990.0L86.0 995.3ZM120.7 999.2L104.2 985.4L109.1 975.2L104.2 985.4ZM144.4 995.5L130.0 979.5L136.3 970.1L130.0 979.5ZM168.1 991.8L160.7 971.6L170.1 965.2L160.7 971.6ZM191.8 988.1L170.4 985.5L178.5 986.5L177.7 980.9L178.5 986.5ZM215.4 984.5L194.9 990.8L202.6 988.4L199.7 983.6L202.6 988.4ZM239.1 981.0L218.6 987.3L226.3 984.9L223.4 980.0L226.3 984.9ZM262.8 977.5L241.5 980.5L249.5 979.3L247.4 974.1L249.5 979.3ZM286.4 974.0L265.4 978.5L273.3 976.8L270.8 971.7L273.3 976.8ZM310.1 970.6L289.1 975.1L297.0 973.4L294.5 968.3L297.0 973.4ZM333.7 967.2L313.0 972.8L307.4 962.9L313.0 972.8ZM357.4 963.9L336.7 969.8L331.0 960.0L336.7 969.8ZM475.4 948.0L454.1 950.7L450.0 940.1L454.1 950.7ZM499.0 945.0L477.8 948.4L473.3 937.9L477.8 948.4ZM78.6 1029.3L60.4 1017.9L63.8 1007.1L60.4 1017.9ZM102.3 1025.5L84.1 1014.1L87.5 1003.3L84.1 1014.1ZM197.0 1010.6L175.8 1006.8L174.9 995.5L175.8 1006.8ZM220.6 1006.9L199.6 1011.4L194.6 1001.2L199.6 1011.4ZM291.5 996.4L272.0 1005.5L264.8 996.7L272.0 1005.5ZM315.1 993.0L295.7 1002.1L288.5 993.3L295.7 1002.1ZM84.0 1051.7L65.4 1041.0L68.4 1030.0L65.4 1041.0ZM320.2 1015.4L300.7 1024.5L293.5 1015.7L300.7 1024.5ZM343.8 1012.0L324.6 1021.8L317.1 1013.3L324.6 1021.8ZM89.3 1074.1L70.7 1063.4L73.8 1052.5L70.7 1063.4ZM348.8 1034.5L329.6 1044.2L322.2 1035.7L329.6 1044.2ZM306.8 1063.6L287.3 1072.7L280.1 1063.9L287.3 1072.7ZM330.3 1060.2L310.8 1069.3L303.7 1060.5L310.8 1069.3ZM288.4 1089.5L268.9 1098.6L261.7 1089.8L268.9 1098.6Z"/>
<path stroke="#525252" d="M97.1 793.4L116.3 803.1L109.1 799.5L107.8 805.0L109.1 799.5ZM78.4 819.6L96.0 831.9L89.4 827.3L87.4 832.6L89.4 827.3ZM102.4 815.9L122.2 824.3L114.7 821.1L113.8 826.7L114.7 821.1ZM126.3 812.2L147.8 813.3L139.7 812.9L140.8 818.4L139.7 812.9ZM150.3 808.5L170.9 802.6L163.1 804.8L166.0 809.7L163.1 804.8ZM83.7 842.1L98.3 857.8L92.8 851.9L89.8 856.7L92.8 851.9ZM107.6 838.3L127.2 847.1L119.8 843.8L118.9 849.4L119.8 843.8ZM155.4 831.0L175.6 823.6L168.0 826.4L171.2 831.1L168.0 826.4ZM89.0 864.5L106.1 877.5L99.7 872.6L97.5 877.8L99.7 872.6ZM112.9 860.8L131.5 871.6L124.5 867.5L122.9 873.0L124.5 867.5ZM136.7 857.1L157.8 861.2L149.9 859.7L150.2 865.3L149.9 859.7ZM94.2 887.0L112.1 899.0L105.4 894.5L103.4 899.8L105.4 894.5ZM118.1 883.3L137.7 892.0L130.3 888.7L129.4 894.3L130.3 888.7ZM142.0 879.6L162.6 885.5L154.8 883.3L154.7 888.9L154.8 883.3ZM147.2 902.0L166.7 911.1L159.3 907.7L158.3 913.3L159.3 907.7ZM171.0 898.4L192.1 902.5L184.1 900.9L184.5 906.6L184.1 900.9ZM81.0 935.7L75.1 915.0L77.3 922.8L82.2 920.0L77.3 922.8ZM104.8 931.9L94.7 912.9L98.5 920.1L102.7 916.3L98.5 920.1ZM128.6 928.2L149.7 932.3L141.8 930.7L142.1 936.4L141.8 930.7ZM152.4 924.5L173.8 926.0L165.8 925.4L166.8 931.0L165.8 925.4ZM176.2 920.8L194.8 931.6L187.8 927.5L186.2 933.0L187.8 927.5ZM200.0 917.2L220.3 924.2L212.6 921.6L212.2 927.2L212.6 921.6ZM247.5 910.2L265.1 897.8L258.5 902.5L262.8 906.2L258.5 902.5ZM271.2 906.7L279.6 886.9L276.5 894.4L282.1 895.2L276.5 894.4ZM295.0 903.3L287.3 883.2L290.2 890.8L294.8 887.5L290.2 890.8ZM318.7 899.9L318.7 878.4L318.7 886.5L324.2 885.1L318.7 886.5ZM86.3 958.2L76.9 938.8L80.5 946.1L84.8 942.4L80.5 946.1ZM157.6 946.9L177.1 937.8L169.8 941.3L173.4 945.7L169.8 941.3ZM181.4 943.3L201.4 951.0L193.9 948.1L193.2 953.7L193.9 948.1ZM228.8 936.1L247.7 946.5L240.6 942.6L239.1 948.1L240.6 942.6ZM252.6 932.6L266.1 915.9L261.0 922.2L266.2 924.6L261.0 922.2ZM276.3 929.1L257.1 919.4L264.4 923.1L265.6 917.5L264.4 923.1ZM300.0 925.7L278.7 923.1L286.7 924.1L286.0 918.5L286.7 924.1ZM323.7 922.4L302.5 925.7L310.5 924.5L308.2 919.3L310.5 924.5ZM91.7 980.6L77.8 964.1L83.0 970.3L86.4 965.7L83.0 970.3ZM234.0 958.5L213.3 964.5L221.1 962.2L218.2 957.3L221.1 962.2Z"/>
<path stroke="#ee8c1a" d="M105.4 1141.3L85.2 1134.0L86.4 1122.7L85.2 1134.0L90.3 1135.8L91.4 1124.5L90.3 1135.8L95.4 1137.7L96.0 1132.0L95.4 1137.7ZM199.6 1126.2L178.1 1128.1L174.4 1117.4L178.1 1128.1L183.5 1127.6L179.8 1116.9L183.5 1127.6L188.9 1127.2L187.0 1121.8L188.9 1127.2ZM87.3 1167.6L66.5 1162.1L66.7 1150.7L66.5 1162.1L71.7 1163.5L71.9 1152.1L71.7 1163.5L77.0 1164.8L77.0 1159.2L77.0 1164.8ZM110.8 1163.7L90.0 1158.2L90.2 1146.8L90.0 1158.2L95.3 1159.6L95.4 1148.2L95.3 1159.6L100.5 1161.0L100.6 1155.3L100.5 1161.0ZM134.3 1159.9L113.6 1154.3L113.7 1143.0L113.6 1154.3L118.8 1155.7L118.9 1144.4L118.8 1155.7L124.0 1157.1L124.1 1151.4L124.0 1157.1ZM157.8 1156.1L137.1 1161.6L131.5 1151.7L137.1 1161.6L142.3 1160.2L136.7 1150.3L142.3 1160.2L147.5 1158.8L141.9 1148.9L147.5 1158.8ZM181.3 1152.3L159.9 1154.2L156.2 1143.5L159.9 1154.2L165.3 1153.7L161.5 1143.0L165.3 1153.7L170.7 1153.2L168.8 1147.9L170.7 1153.2ZM204.8 1148.6L184.0 1154.2L178.5 1144.3L184.0 1154.2L189.3 1152.8L183.7 1142.9L189.3 1152.8L194.5 1151.4L191.7 1146.4L194.5 1151.4ZM228.3 1144.9L207.3 1149.4L202.2 1139.2L207.3 1149.4L212.5 1148.3L207.5 1138.1L212.5 1148.3L217.8 1147.2L215.3 1142.1L217.8 1147.2ZM186.6 1174.7L165.4 1178.4L160.8 1168.1L165.4 1178.4L170.8 1177.5L166.1 1167.1L170.8 1177.5L176.1 1176.5L173.7 1171.4L176.1 1176.5ZM257.0 1163.7L236.8 1171.1L230.4 1161.7L236.8 1171.1L241.8 1169.2L235.5 1159.8L241.8 1169.2L246.9 1167.4L243.7 1162.7L246.9 1167.4ZM280.4 1160.1L260.0 1166.8L253.9 1157.2L260.0 1166.8L265.1 1165.1L259.0 1155.5L265.1 1165.1L270.2 1163.5L267.2 1158.7L270.2 1163.5ZM303.8 1156.6L284.4 1165.7L277.2 1156.9L284.4 1165.7L289.2 1163.4L282.1 1154.6L289.2 1163.4L294.1 1161.2L290.5 1156.8L294.1 1161.2ZM145.0 1204.6L123.5 1203.9L121.1 1192.8L123.5 1203.9L128.9 1204.1L126.5 1193.0L128.9 1204.1L134.3 1204.2L133.1 1198.7L134.3 1204.2ZM168.5 1200.8L147.1 1198.9L145.2 1187.7L147.1 1198.9L152.4 1199.4L150.6 1188.2L152.4 1199.4L157.8 1199.9L156.0 1188.7L157.8 1199.9ZM285.6 1182.5L266.1 1191.6L258.9 1182.8L266.1 1191.6L271.0 1189.3L263.8 1180.5L271.0 1189.3L275.9 1187.0L272.3 1182.6L275.9 1187.0ZM309.0 1179.0L290.4 1189.7L282.5 1181.6L290.4 1189.7L295.1 1187.0L287.1 1178.9L295.1 1187.0L299.7 1184.3L295.8 1180.3L299.7 1184.3ZM332.4 1175.5L313.8 1186.3L305.8 1178.2L313.8 1186.3L318.4 1183.6L310.5 1175.5L318.4 1183.6L323.1 1180.9L319.2 1176.8L323.1 1180.9ZM173.8 1223.2L152.3 1223.2L149.5 1212.2L152.3 1223.2L157.7 1223.2L154.9 1212.2L157.7 1223.2L163.1 1223.2L161.7 1217.7L163.1 1223.2ZM197.2 1219.4L175.7 1219.4L172.9 1208.4L175.7 1219.4L181.1 1219.4L178.3 1208.4L181.1 1219.4L186.5 1219.4L185.1 1213.9L186.5 1219.4ZM220.6 1215.7L199.2 1217.6L195.5 1206.9L199.2 1217.6L204.6 1217.1L200.8 1206.4L204.6 1217.1L210.0 1216.6L206.2 1205.9L210.0 1216.6ZM267.4 1208.4L247.9 1217.5L240.7 1208.7L247.9 1217.5L252.8 1215.2L245.6 1206.5L252.8 1215.2L257.7 1213.0L254.1 1208.6L257.7 1213.0ZM290.8 1204.9L270.6 1212.2L264.2 1202.8L270.6 1212.2L275.7 1210.4L269.3 1201.0L275.7 1210.4L280.7 1208.5L277.5 1203.8L280.7 1208.5ZM314.2 1201.4L294.7 1210.4L287.5 1201.7L294.7 1210.4L299.6 1208.2L292.4 1199.4L299.6 1208.2L304.5 1205.9L300.9 1201.5L304.5 1205.9ZM337.5 1197.9L318.0 1207.0L310.9 1198.2L318.0 1207.0L322.9 1204.7L315.8 1195.9L322.9 1204.7L327.8 1202.4L324.2 1198.0L327.8 1202.4ZM384.2 1191.1L364.7 1200.2L357.6 1191.4L364.7 1200.2L369.6 1197.9L362.5 1189.1L369.6 1197.9L374.5 1195.6L367.4 1186.8L374.5 1195.6ZM179.1 1245.5L157.6 1245.9L154.7 1235.0L157.6 1245.9L163.0 1245.8L160.1 1234.9L163.0 1245.8L168.4 1245.7L167.0 1240.3L168.4 1245.7ZM202.5 1241.8L181.0 1242.5L177.9 1231.6L181.0 1242.5L186.4 1242.3L183.3 1231.4L186.4 1242.3L191.8 1242.2L190.2 1236.7L191.8 1242.2ZM225.9 1238.1L204.6 1240.7L200.5 1230.1L204.6 1240.7L209.9 1240.0L205.8 1229.5L209.9 1240.0L215.3 1239.4L211.2 1228.8L215.3 1239.4ZM249.3 1234.4L228.4 1239.6L223.0 1229.6L228.4 1239.6L233.7 1238.3L228.3 1228.3L233.7 1238.3L238.9 1237.0L233.5 1227.0L238.9 1237.0ZM272.6 1230.8L253.2 1239.9L246.0 1231.1L253.2 1239.9L258.1 1237.6L250.9 1228.8L258.1 1237.6L262.9 1235.3L259.4 1230.9L262.9 1235.3ZM296.0 1227.2L277.4 1238.0L269.5 1229.9L277.4 1238.0L282.1 1235.3L274.1 1227.2L282.1 1235.3L286.7 1232.6L282.8 1228.5L286.7 1232.6ZM319.3 1223.7L300.7 1234.5L292.8 1226.3L300.7 1234.5L305.4 1231.8L297.5 1223.6L305.4 1231.8L310.1 1229.1L306.1 1225.0L310.1 1229.1ZM342.7 1220.2L324.1 1231.0L316.1 1222.9L324.1 1231.0L328.7 1228.3L320.8 1220.2L328.7 1228.3L333.4 1225.6L329.5 1221.5L333.4 1225.6ZM366.0 1216.8L347.4 1227.6L339.5 1219.4L347.4 1227.6L352.1 1224.9L344.1 1216.7L352.1 1224.9L356.7 1222.2L348.8 1214.0L356.7 1222.2ZM389.3 1213.4L370.7 1224.2L362.8 1216.1L370.7 1224.2L375.4 1221.5L367.5 1213.4L375.4 1221.5L380.1 1218.8L372.1 1210.7L380.1 1218.8ZM301.2 1249.6L282.1 1259.3L274.6 1250.8L282.1 1259.3L286.9 1256.9L279.4 1248.4L286.9 1256.9L291.7 1254.4L287.9 1250.2L291.7 1254.4ZM324.5 1246.1L305.7 1256.5L297.9 1248.2L305.7 1256.5L310.4 1253.9L302.7 1245.6L310.4 1253.9L315.2 1251.2L311.3 1247.1L315.2 1251.2ZM347.8 1242.6L329.0 1253.0L321.3 1244.7L329.0 1253.0L333.8 1250.4L326.0 1242.1L333.8 1250.4L338.5 1247.8L334.6 1243.6L338.5 1247.8ZM371.1 1239.2L352.3 1249.6L344.6 1241.3L352.3 1249.6L357.1 1247.0L349.3 1238.7L357.1 1247.0L361.8 1244.3L357.9 1240.2L361.8 1244.3ZM394.4 1235.8L375.8 1246.5L367.9 1238.4L375.8 1246.5L380.5 1243.8L372.6 1235.7L380.5 1243.8L385.2 1241.1L381.2 1237.1L385.2 1241.1ZM417.7 1232.5L399.1 1243.2L391.2 1235.1L399.1 1243.2L403.8 1240.5L395.8 1232.4L403.8 1240.5L408.4 1237.8L404.5 1233.7L408.4 1237.8ZM469.3 1248.3L451.1 1259.7L442.8 1251.8L451.1 1259.7L455.6 1256.8L447.4 1249.0L455.6 1256.8L460.2 1253.9L456.1 1250.0L460.2 1253.9ZM492.5 1245.1L474.3 1256.5L466.1 1248.6L474.3 1256.5L478.9 1253.6L470.7 1245.8L478.9 1253.6L483.4 1250.8L479.3 1246.8L483.4 1250.8ZM515.7 1241.9L498.1 1254.3L489.5 1246.9L498.1 1254.3L502.5 1251.2L493.9 1243.8L502.5 1251.2L507.0 1248.1L502.7 1244.4L507.0 1248.1ZM538.9 1238.9L521.3 1251.2L512.7 1243.8L521.3 1251.2L525.8 1248.1L517.1 1240.7L525.8 1248.1L530.2 1245.0L525.9 1241.3L530.2 1245.0Z"/>
<path stroke="#da1428" d="M116.2 1186.1L96.7 1195.2L89.5 1186.4L96.7 1195.2L101.6 1192.9L94.4 1184.1L101.6 1192.9L106.5 1190.6L99.3 1181.8L106.5 1190.6ZM139.7 1182.2L118.3 1180.4L116.4 1169.2L118.3 1180.4L123.6 1180.8L121.8 1169.6L123.6 1180.8L129.0 1181.3L127.2 1170.1L129.0 1181.3ZM163.2 1178.4L142.4 1184.0L136.8 1174.1L142.4 1184.0L147.6 1182.6L142.0 1172.7L147.6 1182.6L152.8 1181.2L147.3 1171.3L152.8 1181.2ZM210.1 1171.0L188.7 1172.9L184.9 1162.1L188.7 1172.9L194.0 1172.4L190.3 1161.7L194.0 1172.4L199.4 1171.9L195.7 1161.2L199.4 1171.9ZM233.5 1167.3L212.0 1168.1L208.9 1157.2L212.0 1168.1L217.4 1167.9L214.3 1157.0L217.4 1167.9L222.8 1167.7L219.7 1156.8L222.8 1167.7ZM191.9 1197.1L170.4 1196.3L168.0 1185.2L170.4 1196.3L175.8 1196.5L173.4 1185.4L175.8 1196.5L181.2 1196.7L178.8 1185.6L181.2 1196.7ZM215.4 1193.4L195.1 1200.7L188.8 1191.3L195.1 1200.7L200.2 1198.9L193.8 1189.5L200.2 1198.9L205.3 1197.0L198.9 1187.6L205.3 1197.0ZM238.8 1189.7L219.3 1198.8L212.1 1190.0L219.3 1198.8L224.2 1196.5L217.0 1187.7L224.2 1196.5L229.1 1194.2L221.9 1185.4L229.1 1194.2ZM262.2 1186.1L241.4 1191.6L235.9 1181.7L241.4 1191.6L246.6 1190.2L241.1 1180.3L246.6 1190.2L251.9 1188.8L246.3 1178.9L251.9 1188.8ZM244.0 1212.1L222.5 1212.1L219.7 1201.1L222.5 1212.1L227.9 1212.1L225.1 1201.1L227.9 1212.1L233.3 1212.1L230.5 1201.1L233.3 1212.1Z"/>
<circle cx="205.1" cy="939.7" r="5.2" stroke="#525252"/>
<circle cx="210.3" cy="962.1" r="5.2" stroke="#525252"/>
</g>
<g stroke="#7a7a7a" stroke-opacity="0.55" stroke-width="0.9" stroke-dasharray="3.2 1.4" fill="none">
<line x1="92.40" y1="123.6" x2="92.40" y2="1228.0"/>
<line x1="245.85" y1="123.6" x2="245.85" y2="1228.0"/>
<line x1="399.30" y1="123.6" x2="399.30" y2="1228.0"/>
<line x1="552.75" y1="123.6" x2="552.75" y2="1228.0"/>
<line x1="706.20" y1="123.6" x2="706.20" y2="1228.0"/>
<line x1="859.65" y1="123.6" x2="859.65" y2="1228.0"/>
<line x1="1013.10" y1="123.6" x2="1013.10" y2="1228.0"/>
<line x1="1166.55" y1="123.6" x2="1166.55" y2="1228.0"/>
<line x1="78.5" y1="226.50" x2="1251.5" y2="226.50"/>
<line x1="78.5" y1="379.80" x2="1251.5" y2="379.80"/>
<line x1="78.5" y1="533.10" x2="1251.5" y2="533.10"/>
<line x1="78.5" y1="686.40" x2="1251.5" y2="686.40"/>
<line x1="78.5" y1="839.70" x2="1251.5" y2="839.70"/>
<line x1="78.5" y1="993.00" x2="1251.5" y2="993.00"/>
<line x1="78.5" y1="1146.30" x2="1251.5" y2="1146.30"/>
</g>
<rect x="78.5" y="123.6" width="1173.0" height="1104.4" fill="none" stroke="#000" stroke-width="1.2"/>
<g font-family="Liberation Sans, sans-serif" font-size="17.6" fill="#000">
<text x="92.40" y="115.00" text-anchor="middle" textLength="50.78" lengthAdjust="spacingAndGlyphs">126°E</text>
<text x="92.40" y="1248.30" text-anchor="middle" textLength="50.78" lengthAdjust="spacingAndGlyphs">126°E</text>
<text x="245.85" y="115.00" text-anchor="middle" textLength="66.71" lengthAdjust="spacingAndGlyphs">127.5°E</text>
<text x="245.85" y="1248.30" text-anchor="middle" textLength="66.71" lengthAdjust="spacingAndGlyphs">127.5°E</text>
<text x="399.30" y="115.00" text-anchor="middle" textLength="50.78" lengthAdjust="spacingAndGlyphs">129°E</text>
<text x="399.30" y="1248.30" text-anchor="middle" textLength="50.78" lengthAdjust="spacingAndGlyphs">129°E</text>
<text x="552.75" y="115.00" text-anchor="middle" textLength="66.71" lengthAdjust="spacingAndGlyphs">130.5°E</text>
<text x="552.75" y="1248.30" text-anchor="middle" textLength="66.71" lengthAdjust="spacingAndGlyphs">130.5°E</text>
<text x="706.20" y="115.00" text-anchor="middle" textLength="50.78" lengthAdjust="spacingAndGlyphs">132°E</text>
<text x="706.20" y="1248.30" text-anchor="middle" textLength="50.78" lengthAdjust="spacingAndGlyphs">132°E</text>
<text x="859.65" y="115.00" text-anchor="middle" textLength="66.71" lengthAdjust="spacingAndGlyphs">133.5°E</text>
<text x="859.65" y="1248.30" text-anchor="middle" textLength="66.71" lengthAdjust="spacingAndGlyphs">133.5°E</text>
<text x="1013.10" y="115.00" text-anchor="middle" textLength="50.78" lengthAdjust="spacingAndGlyphs">135°E</text>
<text x="1013.10" y="1248.30" text-anchor="middle" textLength="50.78" lengthAdjust="spacingAndGlyphs">135°E</text>
<text x="1166.55" y="115.00" text-anchor="middle" textLength="66.71" lengthAdjust="spacingAndGlyphs">136.5°E</text>
<text x="1166.55" y="1248.30" text-anchor="middle" textLength="66.71" lengthAdjust="spacingAndGlyphs">136.5°E</text>
<text x="71.00" y="230.80" text-anchor="end" textLength="42.09" lengthAdjust="spacingAndGlyphs">24°N</text>
<text x="1257.00" y="231.00" text-anchor="start" textLength="42.09" lengthAdjust="spacingAndGlyphs">24°N</text>
<text x="71.00" y="384.10" text-anchor="end" textLength="58.03" lengthAdjust="spacingAndGlyphs">22.5°N</text>
<text x="1257.00" y="384.30" text-anchor="start" textLength="58.03" lengthAdjust="spacingAndGlyphs">22.5°N</text>
<text x="71.00" y="537.40" text-anchor="end" textLength="42.09" lengthAdjust="spacingAndGlyphs">21°N</text>
<text x="1257.00" y="537.60" text-anchor="start" textLength="42.09" lengthAdjust="spacingAndGlyphs">21°N</text>
<text x="71.00" y="690.70" text-anchor="end" textLength="58.03" lengthAdjust="spacingAndGlyphs">19.5°N</text>
<text x="1257.00" y="690.90" text-anchor="start" textLength="58.03" lengthAdjust="spacingAndGlyphs">19.5°N</text>
<text x="71.00" y="844.00" text-anchor="end" textLength="42.09" lengthAdjust="spacingAndGlyphs">18°N</text>
<text x="1257.00" y="844.20" text-anchor="start" textLength="42.09" lengthAdjust="spacingAndGlyphs">18°N</text>
<text x="71.00" y="997.30" text-anchor="end" textLength="58.03" lengthAdjust="spacingAndGlyphs">16.5°N</text>
<text x="1257.00" y="997.50" text-anchor="start" textLength="58.03" lengthAdjust="spacingAndGlyphs">16.5°N</text>
<text x="71.00" y="1150.60" text-anchor="end" textLength="42.09" lengthAdjust="spacingAndGlyphs">15°N</text>
<text x="1257.00" y="1150.80" text-anchor="start" textLength="42.09" lengthAdjust="spacingAndGlyphs">15°N</text>
</g>
<rect x="1355.4" y="1127.78" width="36.0" height="100.72" fill="#595959"/>
<rect x="1355.4" y="1027.36" width="36.0" height="100.72" fill="#00bdff"/>
<rect x="1355.4" y="926.95" width="36.0" height="100.72" fill="#0035ff"/>
<rect x="1355.4" y="826.53" width="36.0" height="100.72" fill="#009000"/>
<rect x="1355.4" y="726.11" width="36.0" height="100.72" fill="#ffd20c"/>
<rect x="1355.4" y="625.69" width="36.0" height="100.72" fill="#ff8c0e"/>
<rect x="1355.4" y="525.27" width="36.0" height="100.72" fill="#ff1010"/>
<rect x="1355.4" y="424.85" width="36.0" height="100.72" fill="#7f3c2a"/>
<rect x="1355.4" y="324.44" width="36.0" height="100.72" fill="#f200f2"/>
<rect x="1355.4" y="224.02" width="36.0" height="100.72" fill="#8000aa"/>
<rect x="1355.4" y="123.60" width="36.0" height="100.72" fill="#2b0060"/>
<rect x="1355.4" y="123.6" width="36.0" height="1104.6000000000001" fill="none" stroke="#000" stroke-width="1.2"/>
<g stroke="#000" stroke-width="1.4">
<line x1="1391.4" y1="1228.20" x2="1397.6000000000001" y2="1228.20"/>
<line x1="1391.4" y1="1127.78" x2="1397.6000000000001" y2="1127.78"/>
<line x1="1391.4" y1="1027.36" x2="1397.6000000000001" y2="1027.36"/>
<line x1="1391.4" y1="926.95" x2="1397.6000000000001" y2="926.95"/>
<line x1="1391.4" y1="826.53" x2="1397.6000000000001" y2="826.53"/>
<line x1="1391.4" y1="726.11" x2="1397.6000000000001" y2="726.11"/>
<line x1="1391.4" y1="625.69" x2="1397.6000000000001" y2="625.69"/>
<line x1="1391.4" y1="525.27" x2="1397.6000000000001" y2="525.27"/>
<line x1="1391.4" y1="424.85" x2="1397.6000000000001" y2="424.85"/>
<line x1="1391.4" y1="324.44" x2="1397.6000000000001" y2="324.44"/>
<line x1="1391.4" y1="224.02" x2="1397.6000000000001" y2="224.02"/>
</g>
<g font-family="Liberation Sans, sans-serif" font-size="17.6" fill="#000">
<text x="1404.50" y="1234.80" text-anchor="start" textLength="10.63" lengthAdjust="spacingAndGlyphs">0</text>
<text x="1404.50" y="1134.38" text-anchor="start" textLength="10.63" lengthAdjust="spacingAndGlyphs">5</text>
<text x="1404.50" y="1033.96" text-anchor="start" textLength="21.25" lengthAdjust="spacingAndGlyphs">10</text>
<text x="1404.50" y="933.55" text-anchor="start" textLength="21.25" lengthAdjust="spacingAndGlyphs">15</text>
<text x="1404.50" y="833.13" text-anchor="start" textLength="21.25" lengthAdjust="spacingAndGlyphs">20</text>
<text x="1404.50" y="732.71" text-anchor="start" textLength="21.25" lengthAdjust="spacingAndGlyphs">25</text>
<text x="1404.50" y="632.29" text-anchor="start" textLength="21.25" lengthAdjust="spacingAndGlyphs">30</text>
<text x="1404.50" y="531.87" text-anchor="start" textLength="21.25" lengthAdjust="spacingAndGlyphs">35</text>
<text x="1404.50" y="431.45" text-anchor="start" textLength="21.25" lengthAdjust="spacingAndGlyphs">40</text>
<text x="1404.50" y="331.04" text-anchor="start" textLength="21.25" lengthAdjust="spacingAndGlyphs">45</text>
<text x="1404.50" y="230.62" text-anchor="start" textLength="21.25" lengthAdjust="spacingAndGlyphs">50</text>
</g>
<text transform="translate(1471.6,678.3) rotate(-90)" text-anchor="middle" font-family="Liberation Sans, sans-serif" font-size="27.8" textLength="268.6" lengthAdjust="spacingAndGlyphs">Wind Speed (knots)</text>
<text x="735.5" y="39.8" text-anchor="middle" font-family="Liberation Sans, sans-serif" font-weight="bold" font-size="38" textLength="804.7" lengthAdjust="spacingAndGlyphs">Tropical Depression Ten (2025) HY-2B</text>
<text x="735.5" y="81.1" text-anchor="middle" font-family="Liberation Sans, sans-serif" font-weight="bold" font-size="38" textLength="754.8" lengthAdjust="spacingAndGlyphs">Ascending Pass 2025-07-22 09:43Z</text>
<g id="logo">
<defs><clipPath id="globe"><circle cx="50.2" cy="59.4" r="38.6"/></clipPath></defs>
<circle cx="50.2" cy="59.4" r="38.6" fill="#2161b3"/>
<g clip-path="url(#globe)">
<path d="M33.2 28L37.9 23L45.2 21.7L51.2 22.7L54.5 26.6L59.8 24.6L64.5 27.3L66.5 34.6L65.1 39.9L61.2 44.6L58.5 49.2L55.8 55.2L53.8 60.5L50.5 61.2L46.5 57.9L43.2 52.6L39.9 45.9L37.2 39.3L34.6 32.6Z" fill="#4f7f3a"/>
<path d="M35.5 29L40.5 25L44 28L45.5 37L44.5 46L41.5 44L38.5 37Z" fill="#9c9868"/>
<path d="M45 24L50 23.5L52.5 27L49 29L46 27.5Z" fill="#8a7f58"/>
<ellipse cx="55.5" cy="28.8" rx="3.8" ry="2.6" fill="#2161b3"/>
<path d="M61.2 64.5L66.5 63.8L73.1 64.5L79.8 68.5L85.1 72.5L84.4 77.8L79.8 83.1L74.4 88.4L70.5 92.4L66.5 94.4L65.1 89.8L63.8 83.1L62.5 75.8L61.2 69.8Z" fill="#4e7d36"/>
<path d="M66 90L69 88L70 93L67 94.5Z" fill="#a08a66"/>
</g>
<g font-family="Liberation Sans, sans-serif" font-weight="bold" fill="#1d3f7a" stroke="#1d3f7a" stroke-width="2.9" stroke-linejoin="round"><text x="13" y="72.5" font-size="35.8" textLength="14.3" lengthAdjust="spacingAndGlyphs">C</text>
<text x="28.3" y="74.3" font-size="37.8" textLength="12.9" lengthAdjust="spacingAndGlyphs">O</text>
<text x="40.9" y="75.1" font-size="43.2" textLength="17.6" lengthAdjust="spacingAndGlyphs">A</text>
<text x="58.6" y="73.8" font-size="37.4" textLength="13.2" lengthAdjust="spacingAndGlyphs">P</text>
<text x="71.8" y="71.2" font-size="29.7" textLength="14.9" lengthAdjust="spacingAndGlyphs">S</text></g><g font-family="Liberation Sans, sans-serif" font-weight="bold" fill="#ffffff" stroke="#ffffff" stroke-width="1.7" stroke-linejoin="round"><text x="13" y="72.5" font-size="35.8" textLength="14.3" lengthAdjust="spacingAndGlyphs">C</text>
<text x="28.3" y="74.3" font-size="37.8" textLength="12.9" lengthAdjust="spacingAndGlyphs">O</text>
<text x="40.9" y="75.1" font-size="43.2" textLength="17.6" lengthAdjust="spacingAndGlyphs">A</text>
<text x="58.6" y="73.8" font-size="37.4" textLength="13.2" lengthAdjust="spacingAndGlyphs">P</text>
<text x="71.8" y="71.2" font-size="29.7" textLength="14.9" lengthAdjust="spacingAndGlyphs">S</text></g>
</g>

</svg>
</body></html>
